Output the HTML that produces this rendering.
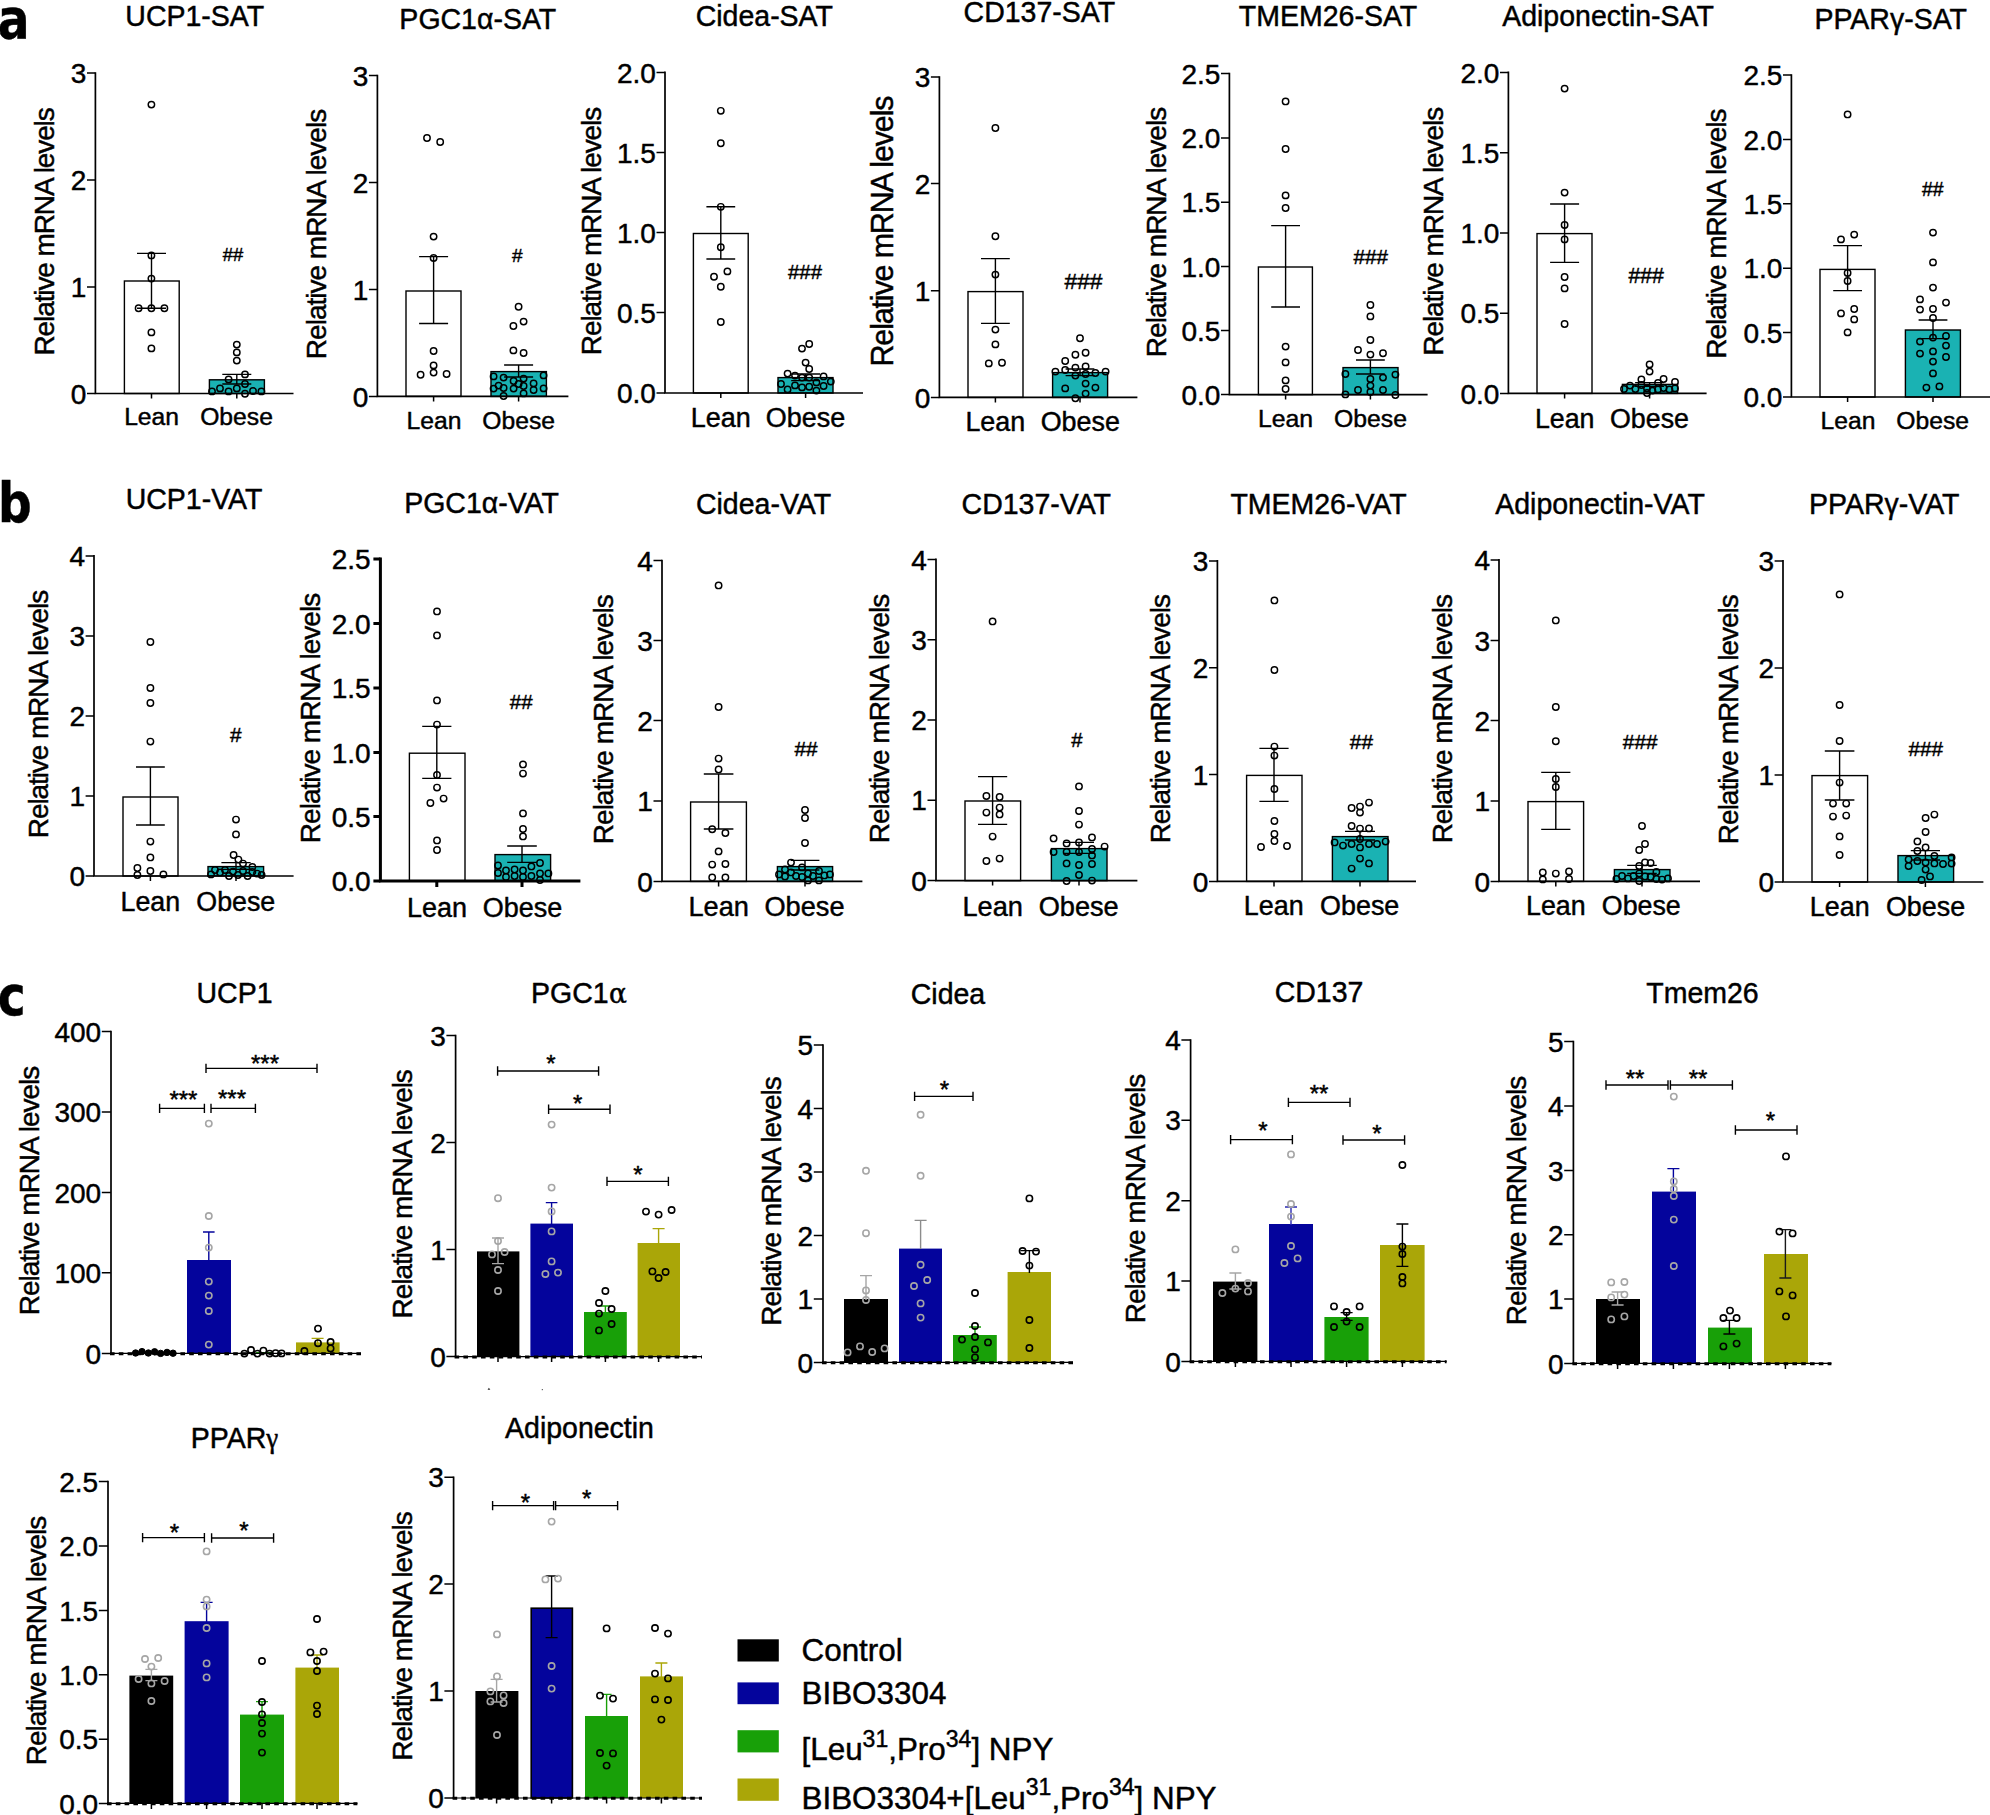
<!DOCTYPE html>
<html lang="en"><head><meta charset="utf-8"><title>Figure</title>
<style>html,body{margin:0;padding:0;background:#fff}svg{display:block}</style></head>
<body>
<svg width="1990" height="1815" viewBox="0 0 1990 1815" font-family='"Liberation Sans", Arial, Helvetica, sans-serif' fill="#000">
<style>text{stroke:#000;stroke-width:0.45px;paint-order:stroke fill}</style>
<rect width="1990" height="1815" fill="#fff"/>
<g>
<rect x="124.4" y="281" width="54.8" height="112.5" fill="#fff" stroke="#000" stroke-width="1.4"/>
<rect x="209.4" y="379.8" width="55" height="13.7" fill="#1ab2b3" stroke="#000" stroke-width="1.4"/>
<path d="M95.4 72.2V393.5M94.6 393.5H293.5" stroke="#000" stroke-width="1.7" fill="none"/>
<path d="M87 73H95.4M87 180H95.4M87 287H95.4M87 393.5H95.4M151.5 393.5V398.5M236.8 393.5V398.5" stroke="#000" stroke-width="1.5" fill="none"/>
<text x="86.4" y="83.1" font-size="28" text-anchor="end" >3</text>
<text x="86.4" y="190.1" font-size="28" text-anchor="end" >2</text>
<text x="86.4" y="297.1" font-size="28" text-anchor="end" >1</text>
<text x="86.4" y="403.6" font-size="28" text-anchor="end" >0</text>
<path d="M151.5 253.4V308.2M137 253.4H166M137 308.2H166" stroke="#000" stroke-width="1.4" fill="none"/>
<path d="M236.8 374.4V384M222.3 374.4H251.3M222.3 384H251.3" stroke="#000" stroke-width="1.4" fill="none"/>
<circle cx="151.4" cy="104.6" r="3.2" fill="none" stroke="#000" stroke-width="1.45"/>
<circle cx="151.4" cy="255.4" r="3.2" fill="none" stroke="#000" stroke-width="1.45"/>
<circle cx="151.4" cy="278.6" r="3.2" fill="none" stroke="#000" stroke-width="1.45"/>
<circle cx="138.6" cy="308.2" r="3.2" fill="none" stroke="#000" stroke-width="1.45"/>
<circle cx="151.4" cy="308.2" r="3.2" fill="none" stroke="#000" stroke-width="1.45"/>
<circle cx="164.4" cy="308.2" r="3.2" fill="none" stroke="#000" stroke-width="1.45"/>
<circle cx="151.4" cy="332.4" r="3.2" fill="none" stroke="#000" stroke-width="1.45"/>
<circle cx="151.4" cy="348.4" r="3.2" fill="none" stroke="#000" stroke-width="1.45"/>
<circle cx="236.8" cy="344.6" r="3.2" fill="none" stroke="#000" stroke-width="1.45"/>
<circle cx="236.8" cy="352.4" r="3.2" fill="none" stroke="#000" stroke-width="1.45"/>
<circle cx="236.8" cy="360.6" r="3.2" fill="none" stroke="#000" stroke-width="1.45"/>
<circle cx="245" cy="374.4" r="3.2" fill="none" stroke="#000" stroke-width="1.45"/>
<circle cx="228.6" cy="379.4" r="3.2" fill="none" stroke="#000" stroke-width="1.45"/>
<circle cx="245" cy="384" r="3.2" fill="none" stroke="#000" stroke-width="1.45"/>
<circle cx="220" cy="388.4" r="3.2" fill="none" stroke="#000" stroke-width="1.45"/>
<circle cx="236.8" cy="388.4" r="3.2" fill="none" stroke="#000" stroke-width="1.45"/>
<circle cx="212" cy="391.4" r="3.2" fill="none" stroke="#000" stroke-width="1.45"/>
<circle cx="228.6" cy="391.4" r="3.2" fill="none" stroke="#000" stroke-width="1.45"/>
<circle cx="253" cy="391" r="3.2" fill="none" stroke="#000" stroke-width="1.45"/>
<circle cx="261.4" cy="391.4" r="3.2" fill="none" stroke="#000" stroke-width="1.45"/>
<circle cx="245" cy="393.8" r="3.2" fill="none" stroke="#000" stroke-width="1.45"/>
<text transform="translate(194.7,26) scale(1,1.06)" font-size="28.5" text-anchor="middle">UCP1-SAT</text>
<text transform="translate(54,231.4) rotate(-90)" font-size="28" text-anchor="middle" textLength="248.3" lengthAdjust="spacing">Relative mRNA levels</text>
<text x="151.6" y="424.6" font-size="24.7" text-anchor="middle" >Lean</text>
<text x="236.5" y="424.6" font-size="24.7" text-anchor="middle" >Obese</text>
<text x="233" y="261" font-size="18.4" text-anchor="middle" >##</text>
</g>
<g>
<rect x="406" y="291" width="55" height="105.4" fill="#fff" stroke="#000" stroke-width="1.4"/>
<rect x="491" y="371.6" width="55.4" height="24.8" fill="#1ab2b3" stroke="#000" stroke-width="1.4"/>
<path d="M377.4 74.8V396.4M376.5 396.4H568.4" stroke="#000" stroke-width="1.7" fill="none"/>
<path d="M368.9 75.6H377.4M368.9 182.6H377.4M368.9 289.6H377.4M368.9 396.4H377.4M433.6 396.4V401.4M518.6 396.4V401.4" stroke="#000" stroke-width="1.5" fill="none"/>
<text x="368.3" y="85.7" font-size="28" text-anchor="end" >3</text>
<text x="368.3" y="192.7" font-size="28" text-anchor="end" >2</text>
<text x="368.3" y="299.7" font-size="28" text-anchor="end" >1</text>
<text x="368.3" y="406.5" font-size="28" text-anchor="end" >0</text>
<path d="M433.6 256.6V323.5M419.1 256.6H448.1M419.1 323.5H448.1" stroke="#000" stroke-width="1.4" fill="none"/>
<path d="M518.6 365V377M504.1 365H533.1M504.1 377H533.1" stroke="#000" stroke-width="1.4" fill="none"/>
<circle cx="427" cy="138" r="3.2" fill="none" stroke="#000" stroke-width="1.45"/>
<circle cx="440.2" cy="142" r="3.2" fill="none" stroke="#000" stroke-width="1.45"/>
<circle cx="433.6" cy="236.6" r="3.2" fill="none" stroke="#000" stroke-width="1.45"/>
<circle cx="433.6" cy="258" r="3.2" fill="none" stroke="#000" stroke-width="1.45"/>
<circle cx="433.6" cy="351" r="3.2" fill="none" stroke="#000" stroke-width="1.45"/>
<circle cx="433.6" cy="365.4" r="3.2" fill="none" stroke="#000" stroke-width="1.45"/>
<circle cx="433.6" cy="372.6" r="3.2" fill="none" stroke="#000" stroke-width="1.45"/>
<circle cx="420.6" cy="374.8" r="3.2" fill="none" stroke="#000" stroke-width="1.45"/>
<circle cx="446.6" cy="374" r="3.2" fill="none" stroke="#000" stroke-width="1.45"/>
<circle cx="518.6" cy="306.8" r="3.2" fill="none" stroke="#000" stroke-width="1.45"/>
<circle cx="523.6" cy="321.6" r="3.2" fill="none" stroke="#000" stroke-width="1.45"/>
<circle cx="513.4" cy="326" r="3.2" fill="none" stroke="#000" stroke-width="1.45"/>
<circle cx="513.4" cy="350.4" r="3.2" fill="none" stroke="#000" stroke-width="1.45"/>
<circle cx="523.6" cy="353" r="3.2" fill="none" stroke="#000" stroke-width="1.45"/>
<circle cx="493.6" cy="376.4" r="3.2" fill="none" stroke="#000" stroke-width="1.45"/>
<circle cx="503.6" cy="377.6" r="3.2" fill="none" stroke="#000" stroke-width="1.45"/>
<circle cx="523.6" cy="378.6" r="3.2" fill="none" stroke="#000" stroke-width="1.45"/>
<circle cx="543.6" cy="375.4" r="3.2" fill="none" stroke="#000" stroke-width="1.45"/>
<circle cx="498.6" cy="385.6" r="3.2" fill="none" stroke="#000" stroke-width="1.45"/>
<circle cx="513.6" cy="381" r="3.2" fill="none" stroke="#000" stroke-width="1.45"/>
<circle cx="518.6" cy="384" r="3.2" fill="none" stroke="#000" stroke-width="1.45"/>
<circle cx="533.6" cy="383.4" r="3.2" fill="none" stroke="#000" stroke-width="1.45"/>
<circle cx="493.6" cy="388.6" r="3.2" fill="none" stroke="#000" stroke-width="1.45"/>
<circle cx="503.6" cy="388" r="3.2" fill="none" stroke="#000" stroke-width="1.45"/>
<circle cx="513.6" cy="388.6" r="3.2" fill="none" stroke="#000" stroke-width="1.45"/>
<circle cx="523.6" cy="386" r="3.2" fill="none" stroke="#000" stroke-width="1.45"/>
<circle cx="533.6" cy="390" r="3.2" fill="none" stroke="#000" stroke-width="1.45"/>
<circle cx="543.6" cy="388.4" r="3.2" fill="none" stroke="#000" stroke-width="1.45"/>
<circle cx="503.6" cy="396" r="3.2" fill="none" stroke="#000" stroke-width="1.45"/>
<circle cx="523.6" cy="393.4" r="3.2" fill="none" stroke="#000" stroke-width="1.45"/>
<text transform="translate(477.8,29) scale(1,1.06)" font-size="28.5" text-anchor="middle">PGC1α-SAT</text>
<text transform="translate(325.6,234) rotate(-90)" font-size="28" text-anchor="middle" textLength="250.3" lengthAdjust="spacing">Relative mRNA levels</text>
<text x="434" y="429.4" font-size="24.7" text-anchor="middle" >Lean</text>
<text x="518.7" y="429.4" font-size="24.7" text-anchor="middle" >Obese</text>
<text x="517.4" y="262" font-size="19" text-anchor="middle" >#</text>
</g>
<g>
<rect x="693.4" y="233.5" width="54.8" height="159.5" fill="#fff" stroke="#000" stroke-width="1.4"/>
<rect x="778" y="377.6" width="55" height="15.4" fill="#1ab2b3" stroke="#000" stroke-width="1.4"/>
<path d="M665 71.6V393M664.1 393H863" stroke="#000" stroke-width="1.7" fill="none"/>
<path d="M656.5 72.4H665M656.5 152.6H665M656.5 232.6H665M656.5 312.6H665M656.5 393H665M720.8 393V398M805.6 393V398" stroke="#000" stroke-width="1.5" fill="none"/>
<text x="655.9" y="82.5" font-size="28" text-anchor="end" >2.0</text>
<text x="655.9" y="162.7" font-size="28" text-anchor="end" >1.5</text>
<text x="655.9" y="242.7" font-size="28" text-anchor="end" >1.0</text>
<text x="655.9" y="322.7" font-size="28" text-anchor="end" >0.5</text>
<text x="655.9" y="403.1" font-size="28" text-anchor="end" >0.0</text>
<path d="M720.8 206.8V259M706.4 206.8H735.2M706.4 259H735.2" stroke="#000" stroke-width="1.4" fill="none"/>
<path d="M805.6 374V380.6M791.2 374H820M791.2 380.6H820" stroke="#000" stroke-width="1.4" fill="none"/>
<circle cx="720.8" cy="110.8" r="3.2" fill="none" stroke="#000" stroke-width="1.45"/>
<circle cx="720.8" cy="143.2" r="3.2" fill="none" stroke="#000" stroke-width="1.45"/>
<circle cx="720.8" cy="206.8" r="3.2" fill="none" stroke="#000" stroke-width="1.45"/>
<circle cx="720.8" cy="247.2" r="3.2" fill="none" stroke="#000" stroke-width="1.45"/>
<circle cx="727.4" cy="271.4" r="3.2" fill="none" stroke="#000" stroke-width="1.45"/>
<circle cx="714" cy="276.8" r="3.2" fill="none" stroke="#000" stroke-width="1.45"/>
<circle cx="720.8" cy="286.8" r="3.2" fill="none" stroke="#000" stroke-width="1.45"/>
<circle cx="720.8" cy="322" r="3.2" fill="none" stroke="#000" stroke-width="1.45"/>
<circle cx="809.2" cy="344" r="3.2" fill="none" stroke="#000" stroke-width="1.45"/>
<circle cx="802" cy="348.6" r="3.2" fill="none" stroke="#000" stroke-width="1.45"/>
<circle cx="805.6" cy="362.6" r="3.2" fill="none" stroke="#000" stroke-width="1.45"/>
<circle cx="809.2" cy="369" r="3.2" fill="none" stroke="#000" stroke-width="1.45"/>
<circle cx="787.6" cy="373.6" r="3.2" fill="none" stroke="#000" stroke-width="1.45"/>
<circle cx="795" cy="375.6" r="3.2" fill="none" stroke="#000" stroke-width="1.45"/>
<circle cx="802" cy="377.6" r="3.2" fill="none" stroke="#000" stroke-width="1.45"/>
<circle cx="809.2" cy="377.6" r="3.2" fill="none" stroke="#000" stroke-width="1.45"/>
<circle cx="823.6" cy="376.4" r="3.2" fill="none" stroke="#000" stroke-width="1.45"/>
<circle cx="816.4" cy="382.4" r="3.2" fill="none" stroke="#000" stroke-width="1.45"/>
<circle cx="830.8" cy="381.6" r="3.2" fill="none" stroke="#000" stroke-width="1.45"/>
<circle cx="781" cy="384" r="3.2" fill="none" stroke="#000" stroke-width="1.45"/>
<circle cx="795" cy="385.4" r="3.2" fill="none" stroke="#000" stroke-width="1.45"/>
<circle cx="823.6" cy="386" r="3.2" fill="none" stroke="#000" stroke-width="1.45"/>
<circle cx="787.6" cy="389.4" r="3.2" fill="none" stroke="#000" stroke-width="1.45"/>
<circle cx="802" cy="387.4" r="3.2" fill="none" stroke="#000" stroke-width="1.45"/>
<circle cx="809.2" cy="386.8" r="3.2" fill="none" stroke="#000" stroke-width="1.45"/>
<circle cx="816.4" cy="390.6" r="3.2" fill="none" stroke="#000" stroke-width="1.45"/>
<text transform="translate(764.3,26) scale(1,1.06)" font-size="28.5" text-anchor="middle">Cidea-SAT</text>
<text transform="translate(601,231) rotate(-90)" font-size="28" text-anchor="middle" textLength="248.3" lengthAdjust="spacing">Relative mRNA levels</text>
<text x="720.8" y="427.4" font-size="27" text-anchor="middle" >Lean</text>
<text x="805.6" y="427.4" font-size="27" text-anchor="middle" >Obese</text>
<text x="805" y="279" font-size="20.3" text-anchor="middle" >###</text>
</g>
<g>
<rect x="968" y="291.6" width="55" height="105.8" fill="#fff" stroke="#000" stroke-width="1.4"/>
<rect x="1052.6" y="372.6" width="55" height="24.8" fill="#1ab2b3" stroke="#000" stroke-width="1.4"/>
<path d="M939.4 76.2V397.4M938.5 397.4H1137.4" stroke="#000" stroke-width="1.7" fill="none"/>
<path d="M930.9 77H939.4M930.9 183.6H939.4M930.9 290.8H939.4M930.9 397.4H939.4M995.4 397.4V402.4M1080 397.4V402.4" stroke="#000" stroke-width="1.5" fill="none"/>
<text x="930.3" y="87.1" font-size="28" text-anchor="end" >3</text>
<text x="930.3" y="193.7" font-size="28" text-anchor="end" >2</text>
<text x="930.3" y="300.9" font-size="28" text-anchor="end" >1</text>
<text x="930.3" y="407.5" font-size="28" text-anchor="end" >0</text>
<path d="M995.4 258.6V323.4M981 258.6H1009.8M981 323.4H1009.8" stroke="#000" stroke-width="1.4" fill="none"/>
<path d="M1080 369V375.6M1065.6 369H1094.4M1065.6 375.6H1094.4" stroke="#000" stroke-width="1.4" fill="none"/>
<circle cx="995.4" cy="128" r="3.2" fill="none" stroke="#000" stroke-width="1.45"/>
<circle cx="995.4" cy="236.2" r="3.2" fill="none" stroke="#000" stroke-width="1.45"/>
<circle cx="995.4" cy="274.6" r="3.2" fill="none" stroke="#000" stroke-width="1.45"/>
<circle cx="995.4" cy="329.6" r="3.2" fill="none" stroke="#000" stroke-width="1.45"/>
<circle cx="995.4" cy="344.4" r="3.2" fill="none" stroke="#000" stroke-width="1.45"/>
<circle cx="988.8" cy="363.4" r="3.2" fill="none" stroke="#000" stroke-width="1.45"/>
<circle cx="1002" cy="362.8" r="3.2" fill="none" stroke="#000" stroke-width="1.45"/>
<circle cx="1080" cy="338.2" r="3.2" fill="none" stroke="#000" stroke-width="1.45"/>
<circle cx="1085.6" cy="352.8" r="3.2" fill="none" stroke="#000" stroke-width="1.45"/>
<circle cx="1075.4" cy="354.8" r="3.2" fill="none" stroke="#000" stroke-width="1.45"/>
<circle cx="1065.2" cy="361" r="3.2" fill="none" stroke="#000" stroke-width="1.45"/>
<circle cx="1075.4" cy="367.6" r="3.2" fill="none" stroke="#000" stroke-width="1.45"/>
<circle cx="1085.6" cy="366.4" r="3.2" fill="none" stroke="#000" stroke-width="1.45"/>
<circle cx="1065.2" cy="370" r="3.2" fill="none" stroke="#000" stroke-width="1.45"/>
<circle cx="1055.4" cy="371.6" r="3.2" fill="none" stroke="#000" stroke-width="1.45"/>
<circle cx="1105.6" cy="371.6" r="3.2" fill="none" stroke="#000" stroke-width="1.45"/>
<circle cx="1095.4" cy="373" r="3.2" fill="none" stroke="#000" stroke-width="1.45"/>
<circle cx="1085.6" cy="374" r="3.2" fill="none" stroke="#000" stroke-width="1.45"/>
<circle cx="1075.4" cy="375.6" r="3.2" fill="none" stroke="#000" stroke-width="1.45"/>
<circle cx="1085.6" cy="383.6" r="3.2" fill="none" stroke="#000" stroke-width="1.45"/>
<circle cx="1065.2" cy="388.4" r="3.2" fill="none" stroke="#000" stroke-width="1.45"/>
<circle cx="1095.4" cy="387.6" r="3.2" fill="none" stroke="#000" stroke-width="1.45"/>
<circle cx="1085.6" cy="393.6" r="3.2" fill="none" stroke="#000" stroke-width="1.45"/>
<circle cx="1075.4" cy="398.2" r="3.2" fill="none" stroke="#000" stroke-width="1.45"/>
<text transform="translate(1039.3,21.6) scale(1,1.06)" font-size="28.5" text-anchor="middle">CD137-SAT</text>
<text transform="translate(892.6,231) rotate(-90)" font-size="30.5" text-anchor="middle" textLength="271" lengthAdjust="spacing">Relative mRNA levels</text>
<text x="995.3" y="431.4" font-size="26.9" text-anchor="middle" >Lean</text>
<text x="1080.3" y="431.4" font-size="26.9" text-anchor="middle" >Obese</text>
<text x="1083.5" y="288.6" font-size="22.8" text-anchor="middle" >###</text>
</g>
<g>
<rect x="1258.4" y="267" width="54" height="127.6" fill="#fff" stroke="#000" stroke-width="1.4"/>
<rect x="1343" y="367.6" width="55" height="27" fill="#1ab2b3" stroke="#000" stroke-width="1.4"/>
<path d="M1229.4 72.8V394.6M1228.6 394.6H1427.6" stroke="#000" stroke-width="1.7" fill="none"/>
<path d="M1221 73.6H1229.4M1221 138H1229.4M1221 202.2H1229.4M1221 266.4H1229.4M1221 330.4H1229.4M1221 394.6H1229.4M1285.6 394.6V399.6M1370.4 394.6V399.6" stroke="#000" stroke-width="1.5" fill="none"/>
<text x="1220.4" y="83.7" font-size="28" text-anchor="end" >2.5</text>
<text x="1220.4" y="148.1" font-size="28" text-anchor="end" >2.0</text>
<text x="1220.4" y="212.3" font-size="28" text-anchor="end" >1.5</text>
<text x="1220.4" y="276.5" font-size="28" text-anchor="end" >1.0</text>
<text x="1220.4" y="340.5" font-size="28" text-anchor="end" >0.5</text>
<text x="1220.4" y="404.7" font-size="28" text-anchor="end" >0.0</text>
<path d="M1285.6 225.6V307M1271.2 225.6H1300M1271.2 307H1300" stroke="#000" stroke-width="1.4" fill="none"/>
<path d="M1370.4 360V374M1356 360H1384.8M1356 374H1384.8" stroke="#000" stroke-width="1.4" fill="none"/>
<circle cx="1285.6" cy="101.4" r="3.2" fill="none" stroke="#000" stroke-width="1.45"/>
<circle cx="1285.6" cy="149" r="3.2" fill="none" stroke="#000" stroke-width="1.45"/>
<circle cx="1285.6" cy="195.4" r="3.2" fill="none" stroke="#000" stroke-width="1.45"/>
<circle cx="1285.6" cy="208" r="3.2" fill="none" stroke="#000" stroke-width="1.45"/>
<circle cx="1285.6" cy="346.6" r="3.2" fill="none" stroke="#000" stroke-width="1.45"/>
<circle cx="1285.6" cy="362.4" r="3.2" fill="none" stroke="#000" stroke-width="1.45"/>
<circle cx="1285.6" cy="380.4" r="3.2" fill="none" stroke="#000" stroke-width="1.45"/>
<circle cx="1285.6" cy="389" r="3.2" fill="none" stroke="#000" stroke-width="1.45"/>
<circle cx="1370.4" cy="305" r="3.2" fill="none" stroke="#000" stroke-width="1.45"/>
<circle cx="1370.4" cy="316.4" r="3.2" fill="none" stroke="#000" stroke-width="1.45"/>
<circle cx="1370.4" cy="340" r="3.2" fill="none" stroke="#000" stroke-width="1.45"/>
<circle cx="1358" cy="350" r="3.2" fill="none" stroke="#000" stroke-width="1.45"/>
<circle cx="1383" cy="353.2" r="3.2" fill="none" stroke="#000" stroke-width="1.45"/>
<circle cx="1370.4" cy="354.6" r="3.2" fill="none" stroke="#000" stroke-width="1.45"/>
<circle cx="1345.4" cy="374" r="3.2" fill="none" stroke="#000" stroke-width="1.45"/>
<circle cx="1395.4" cy="374.6" r="3.2" fill="none" stroke="#000" stroke-width="1.45"/>
<circle cx="1383" cy="377.6" r="3.2" fill="none" stroke="#000" stroke-width="1.45"/>
<circle cx="1370.4" cy="379" r="3.2" fill="none" stroke="#000" stroke-width="1.45"/>
<circle cx="1370.4" cy="385.6" r="3.2" fill="none" stroke="#000" stroke-width="1.45"/>
<circle cx="1358" cy="390" r="3.2" fill="none" stroke="#000" stroke-width="1.45"/>
<circle cx="1383" cy="390" r="3.2" fill="none" stroke="#000" stroke-width="1.45"/>
<circle cx="1370.4" cy="392" r="3.2" fill="none" stroke="#000" stroke-width="1.45"/>
<circle cx="1345.4" cy="394.4" r="3.2" fill="none" stroke="#000" stroke-width="1.45"/>
<circle cx="1395.4" cy="395" r="3.2" fill="none" stroke="#000" stroke-width="1.45"/>
<text transform="translate(1328,26) scale(1,1.06)" font-size="28.5" text-anchor="middle">TMEM26-SAT</text>
<text transform="translate(1166.4,232) rotate(-90)" font-size="28" text-anchor="middle" textLength="250.3" lengthAdjust="spacing">Relative mRNA levels</text>
<text x="1285.6" y="426.6" font-size="24.8" text-anchor="middle" >Lean</text>
<text x="1370.5" y="426.6" font-size="24.8" text-anchor="middle" >Obese</text>
<text x="1370.7" y="264" font-size="20.7" text-anchor="middle" >###</text>
</g>
<g>
<rect x="1537" y="233.6" width="55" height="159.8" fill="#fff" stroke="#000" stroke-width="1.4"/>
<rect x="1622.4" y="384.4" width="55.2" height="9" fill="#1ab2b3" stroke="#000" stroke-width="1.4"/>
<path d="M1508.4 71.6V393.4M1507.6 393.4H1706.6" stroke="#000" stroke-width="1.7" fill="none"/>
<path d="M1500 72.4H1508.4M1500 152.8H1508.4M1500 233H1508.4M1500 313.2H1508.4M1500 393.4H1508.4M1564.6 393.4V398.4M1649.6 393.4V398.4" stroke="#000" stroke-width="1.5" fill="none"/>
<text x="1499.4" y="82.5" font-size="28" text-anchor="end" >2.0</text>
<text x="1499.4" y="162.9" font-size="28" text-anchor="end" >1.5</text>
<text x="1499.4" y="243.1" font-size="28" text-anchor="end" >1.0</text>
<text x="1499.4" y="323.3" font-size="28" text-anchor="end" >0.5</text>
<text x="1499.4" y="403.5" font-size="28" text-anchor="end" >0.0</text>
<path d="M1564.6 204V262.4M1550.1 204H1579.1M1550.1 262.4H1579.1" stroke="#000" stroke-width="1.4" fill="none"/>
<path d="M1649.6 382.6V386.4M1635.1 382.6H1664.1M1635.1 386.4H1664.1" stroke="#000" stroke-width="1.4" fill="none"/>
<circle cx="1564.6" cy="88.6" r="3.2" fill="none" stroke="#000" stroke-width="1.45"/>
<circle cx="1564.6" cy="192.6" r="3.2" fill="none" stroke="#000" stroke-width="1.45"/>
<circle cx="1564.6" cy="225" r="3.2" fill="none" stroke="#000" stroke-width="1.45"/>
<circle cx="1564.6" cy="239.4" r="3.2" fill="none" stroke="#000" stroke-width="1.45"/>
<circle cx="1564.6" cy="277" r="3.2" fill="none" stroke="#000" stroke-width="1.45"/>
<circle cx="1564.6" cy="288.4" r="3.2" fill="none" stroke="#000" stroke-width="1.45"/>
<circle cx="1564.6" cy="324" r="3.2" fill="none" stroke="#000" stroke-width="1.45"/>
<circle cx="1649.6" cy="364.4" r="3.2" fill="none" stroke="#000" stroke-width="1.45"/>
<circle cx="1649.6" cy="371.6" r="3.2" fill="none" stroke="#000" stroke-width="1.45"/>
<circle cx="1641.4" cy="379.4" r="3.2" fill="none" stroke="#000" stroke-width="1.45"/>
<circle cx="1663.6" cy="379" r="3.2" fill="none" stroke="#000" stroke-width="1.45"/>
<circle cx="1675" cy="382" r="3.2" fill="none" stroke="#000" stroke-width="1.45"/>
<circle cx="1658" cy="383" r="3.2" fill="none" stroke="#000" stroke-width="1.45"/>
<circle cx="1630" cy="385.6" r="3.2" fill="none" stroke="#000" stroke-width="1.45"/>
<circle cx="1641.4" cy="385" r="3.2" fill="none" stroke="#000" stroke-width="1.45"/>
<circle cx="1624" cy="389" r="3.2" fill="none" stroke="#000" stroke-width="1.45"/>
<circle cx="1635.4" cy="389" r="3.2" fill="none" stroke="#000" stroke-width="1.45"/>
<circle cx="1647" cy="388.6" r="3.2" fill="none" stroke="#000" stroke-width="1.45"/>
<circle cx="1658" cy="389.4" r="3.2" fill="none" stroke="#000" stroke-width="1.45"/>
<circle cx="1669.4" cy="389.4" r="3.2" fill="none" stroke="#000" stroke-width="1.45"/>
<circle cx="1675" cy="388.4" r="3.2" fill="none" stroke="#000" stroke-width="1.45"/>
<circle cx="1652.4" cy="390.6" r="3.2" fill="none" stroke="#000" stroke-width="1.45"/>
<circle cx="1663.6" cy="388" r="3.2" fill="none" stroke="#000" stroke-width="1.45"/>
<circle cx="1647" cy="393" r="3.2" fill="none" stroke="#000" stroke-width="1.45"/>
<text transform="translate(1608,26) scale(1,1.06)" font-size="28.5" text-anchor="middle">Adiponectin-SAT</text>
<text transform="translate(1443,231.3) rotate(-90)" font-size="28" text-anchor="middle" textLength="248.9" lengthAdjust="spacing">Relative mRNA levels</text>
<text x="1564.7" y="428" font-size="26.8" text-anchor="middle" >Lean</text>
<text x="1649.5" y="428" font-size="26.8" text-anchor="middle" >Obese</text>
<text x="1646.2" y="283" font-size="21.3" text-anchor="middle" >###</text>
</g>
<g>
<rect x="1820" y="269.4" width="55" height="127.6" fill="#fff" stroke="#000" stroke-width="1.4"/>
<rect x="1905.4" y="330" width="55" height="67" fill="#1ab2b3" stroke="#000" stroke-width="1.4"/>
<path d="M1791.4 74.2V397M1790.6 397H1992" stroke="#000" stroke-width="1.7" fill="none"/>
<path d="M1783 75H1791.4M1783 139.4H1791.4M1783 203.8H1791.4M1783 268.2H1791.4M1783 332.6H1791.4M1783 397H1791.4M1847.6 397V402M1933 397V402" stroke="#000" stroke-width="1.5" fill="none"/>
<text x="1782.4" y="85.1" font-size="28" text-anchor="end" >2.5</text>
<text x="1782.4" y="149.5" font-size="28" text-anchor="end" >2.0</text>
<text x="1782.4" y="213.9" font-size="28" text-anchor="end" >1.5</text>
<text x="1782.4" y="278.3" font-size="28" text-anchor="end" >1.0</text>
<text x="1782.4" y="342.7" font-size="28" text-anchor="end" >0.5</text>
<text x="1782.4" y="407.1" font-size="28" text-anchor="end" >0.0</text>
<path d="M1847.6 245.6V290.6M1833.2 245.6H1862M1833.2 290.6H1862" stroke="#000" stroke-width="1.4" fill="none"/>
<path d="M1933 320V338.6M1918.6 320H1947.4M1918.6 338.6H1947.4" stroke="#000" stroke-width="1.4" fill="none"/>
<circle cx="1847.6" cy="114.4" r="3.2" fill="none" stroke="#000" stroke-width="1.45"/>
<circle cx="1854.2" cy="234.6" r="3.2" fill="none" stroke="#000" stroke-width="1.45"/>
<circle cx="1841" cy="239.4" r="3.2" fill="none" stroke="#000" stroke-width="1.45"/>
<circle cx="1847.6" cy="273" r="3.2" fill="none" stroke="#000" stroke-width="1.45"/>
<circle cx="1847.6" cy="281" r="3.2" fill="none" stroke="#000" stroke-width="1.45"/>
<circle cx="1854.2" cy="309" r="3.2" fill="none" stroke="#000" stroke-width="1.45"/>
<circle cx="1841" cy="313.4" r="3.2" fill="none" stroke="#000" stroke-width="1.45"/>
<circle cx="1854.2" cy="319.4" r="3.2" fill="none" stroke="#000" stroke-width="1.45"/>
<circle cx="1847.6" cy="332.4" r="3.2" fill="none" stroke="#000" stroke-width="1.45"/>
<circle cx="1933" cy="232.6" r="3.2" fill="none" stroke="#000" stroke-width="1.45"/>
<circle cx="1933" cy="262.4" r="3.2" fill="none" stroke="#000" stroke-width="1.45"/>
<circle cx="1933" cy="287.6" r="3.2" fill="none" stroke="#000" stroke-width="1.45"/>
<circle cx="1920" cy="299.4" r="3.2" fill="none" stroke="#000" stroke-width="1.45"/>
<circle cx="1946" cy="302.6" r="3.2" fill="none" stroke="#000" stroke-width="1.45"/>
<circle cx="1920" cy="309.6" r="3.2" fill="none" stroke="#000" stroke-width="1.45"/>
<circle cx="1933" cy="309" r="3.2" fill="none" stroke="#000" stroke-width="1.45"/>
<circle cx="1933" cy="318" r="3.2" fill="none" stroke="#000" stroke-width="1.45"/>
<circle cx="1946" cy="336" r="3.2" fill="none" stroke="#000" stroke-width="1.45"/>
<circle cx="1933" cy="337.6" r="3.2" fill="none" stroke="#000" stroke-width="1.45"/>
<circle cx="1920" cy="341.6" r="3.2" fill="none" stroke="#000" stroke-width="1.45"/>
<circle cx="1946" cy="345.6" r="3.2" fill="none" stroke="#000" stroke-width="1.45"/>
<circle cx="1933" cy="351.4" r="3.2" fill="none" stroke="#000" stroke-width="1.45"/>
<circle cx="1920" cy="353.6" r="3.2" fill="none" stroke="#000" stroke-width="1.45"/>
<circle cx="1946" cy="357" r="3.2" fill="none" stroke="#000" stroke-width="1.45"/>
<circle cx="1933" cy="361.6" r="3.2" fill="none" stroke="#000" stroke-width="1.45"/>
<circle cx="1933" cy="373.4" r="3.2" fill="none" stroke="#000" stroke-width="1.45"/>
<circle cx="1926.4" cy="387.6" r="3.2" fill="none" stroke="#000" stroke-width="1.45"/>
<circle cx="1939.4" cy="386.4" r="3.2" fill="none" stroke="#000" stroke-width="1.45"/>
<text transform="translate(1890.7,29) scale(1,1.06)" font-size="28.5" text-anchor="middle">PPARγ-SAT</text>
<text transform="translate(1725.6,233.6) rotate(-90)" font-size="28" text-anchor="middle" textLength="250.3" lengthAdjust="spacing">Relative mRNA levels</text>
<text x="1848" y="429.4" font-size="24.7" text-anchor="middle" >Lean</text>
<text x="1932.7" y="429.4" font-size="24.7" text-anchor="middle" >Obese</text>
<text x="1932.8" y="196" font-size="19.4" text-anchor="middle" >##</text>
</g>
<g>
<rect x="123" y="797" width="55" height="79" fill="#fff" stroke="#000" stroke-width="1.4"/>
<rect x="208" y="866.6" width="55.6" height="9.4" fill="#1ab2b3" stroke="#000" stroke-width="1.4"/>
<path d="M94 555.1V876M93.2 876H293.6" stroke="#000" stroke-width="1.7" fill="none"/>
<path d="M85.6 556H94M85.6 636H94M85.6 716H94M85.6 796H94M85.6 876H94M150.4 876V881M236 876V881" stroke="#000" stroke-width="1.5" fill="none"/>
<text x="85" y="566.1" font-size="28" text-anchor="end" >4</text>
<text x="85" y="646.1" font-size="28" text-anchor="end" >3</text>
<text x="85" y="726.1" font-size="28" text-anchor="end" >2</text>
<text x="85" y="806.1" font-size="28" text-anchor="end" >1</text>
<text x="85" y="886.1" font-size="28" text-anchor="end" >0</text>
<path d="M150.4 767V825M136 767H164.8M136 825H164.8" stroke="#000" stroke-width="1.4" fill="none"/>
<path d="M236 862.6V869.4M221.4 862.6H250.6M221.4 869.4H250.6" stroke="#000" stroke-width="1.4" fill="none"/>
<circle cx="150.4" cy="642" r="3.2" fill="none" stroke="#000" stroke-width="1.45"/>
<circle cx="150.4" cy="688" r="3.2" fill="none" stroke="#000" stroke-width="1.45"/>
<circle cx="150.4" cy="703" r="3.2" fill="none" stroke="#000" stroke-width="1.45"/>
<circle cx="150.4" cy="741.6" r="3.2" fill="none" stroke="#000" stroke-width="1.45"/>
<circle cx="150.4" cy="841.6" r="3.2" fill="none" stroke="#000" stroke-width="1.45"/>
<circle cx="150.4" cy="857.4" r="3.2" fill="none" stroke="#000" stroke-width="1.45"/>
<circle cx="137.4" cy="868" r="3.2" fill="none" stroke="#000" stroke-width="1.45"/>
<circle cx="150.4" cy="871" r="3.2" fill="none" stroke="#000" stroke-width="1.45"/>
<circle cx="137.4" cy="875" r="3.2" fill="none" stroke="#000" stroke-width="1.45"/>
<circle cx="163.4" cy="874.4" r="3.2" fill="none" stroke="#000" stroke-width="1.45"/>
<circle cx="236" cy="819.6" r="3.2" fill="none" stroke="#000" stroke-width="1.45"/>
<circle cx="236" cy="834.4" r="3.2" fill="none" stroke="#000" stroke-width="1.45"/>
<circle cx="233.6" cy="855" r="3.2" fill="none" stroke="#000" stroke-width="1.45"/>
<circle cx="238.4" cy="859.6" r="3.2" fill="none" stroke="#000" stroke-width="1.45"/>
<circle cx="243" cy="863.6" r="3.2" fill="none" stroke="#000" stroke-width="1.45"/>
<circle cx="252.4" cy="867" r="3.2" fill="none" stroke="#000" stroke-width="1.45"/>
<circle cx="211" cy="874.4" r="3.2" fill="none" stroke="#000" stroke-width="1.45"/>
<circle cx="215" cy="870" r="3.2" fill="none" stroke="#000" stroke-width="1.45"/>
<circle cx="220" cy="872.4" r="3.2" fill="none" stroke="#000" stroke-width="1.45"/>
<circle cx="225" cy="870" r="3.2" fill="none" stroke="#000" stroke-width="1.45"/>
<circle cx="229" cy="876" r="3.2" fill="none" stroke="#000" stroke-width="1.45"/>
<circle cx="233" cy="871.6" r="3.2" fill="none" stroke="#000" stroke-width="1.45"/>
<circle cx="238" cy="875" r="3.2" fill="none" stroke="#000" stroke-width="1.45"/>
<circle cx="243" cy="871" r="3.2" fill="none" stroke="#000" stroke-width="1.45"/>
<circle cx="247.6" cy="876" r="3.2" fill="none" stroke="#000" stroke-width="1.45"/>
<circle cx="252.4" cy="872" r="3.2" fill="none" stroke="#000" stroke-width="1.45"/>
<circle cx="257" cy="873.6" r="3.2" fill="none" stroke="#000" stroke-width="1.45"/>
<circle cx="261.6" cy="875" r="3.2" fill="none" stroke="#000" stroke-width="1.45"/>
<text transform="translate(194,509) scale(1,1.06)" font-size="28.5" text-anchor="middle">UCP1-VAT</text>
<text transform="translate(48,714) rotate(-90)" font-size="28" text-anchor="middle" textLength="248.3" lengthAdjust="spacing">Relative mRNA levels</text>
<text x="150.3" y="911" font-size="26.8" text-anchor="middle" >Lean</text>
<text x="235.8" y="911" font-size="26.8" text-anchor="middle" >Obese</text>
<text x="235.8" y="742" font-size="20.8" text-anchor="middle" >#</text>
</g>
<g>
<rect x="409.4" y="753.2" width="55.6" height="127.8" fill="#fff" stroke="#000" stroke-width="1.4"/>
<rect x="495" y="854.6" width="55.6" height="26.4" fill="#1ab2b3" stroke="#000" stroke-width="1.4"/>
<path d="M380.4 557.5V881M378.9 881H580.4" stroke="#000" stroke-width="3" fill="none"/>
<path d="M373.4 559H380.4M373.4 623.6H380.4M373.4 688H380.4M373.4 752.4H380.4M373.4 816.6H380.4M373.4 881H380.4M436.8 881V887M522 881V887" stroke="#000" stroke-width="3" fill="none"/>
<text x="370.6" y="569.1" font-size="28" text-anchor="end" >2.5</text>
<text x="370.6" y="633.7" font-size="28" text-anchor="end" >2.0</text>
<text x="370.6" y="698.1" font-size="28" text-anchor="end" >1.5</text>
<text x="370.6" y="762.5" font-size="28" text-anchor="end" >1.0</text>
<text x="370.6" y="826.7" font-size="28" text-anchor="end" >0.5</text>
<text x="370.6" y="891.1" font-size="28" text-anchor="end" >0.0</text>
<path d="M436.8 726.4V778.4M422.2 726.4H451.4M422.2 778.4H451.4" stroke="#000" stroke-width="1.4" fill="none"/>
<path d="M522 846V862.4M507.2 846H536.8M507.2 862.4H536.8" stroke="#000" stroke-width="1.4" fill="none"/>
<circle cx="437" cy="611.4" r="3.2" fill="none" stroke="#000" stroke-width="1.45"/>
<circle cx="437" cy="635.4" r="3.2" fill="none" stroke="#000" stroke-width="1.45"/>
<circle cx="437" cy="700.4" r="3.2" fill="none" stroke="#000" stroke-width="1.45"/>
<circle cx="437" cy="724.6" r="3.2" fill="none" stroke="#000" stroke-width="1.45"/>
<circle cx="437" cy="775" r="3.2" fill="none" stroke="#000" stroke-width="1.45"/>
<circle cx="437" cy="787.6" r="3.2" fill="none" stroke="#000" stroke-width="1.45"/>
<circle cx="443.6" cy="798.6" r="3.2" fill="none" stroke="#000" stroke-width="1.45"/>
<circle cx="430.4" cy="803" r="3.2" fill="none" stroke="#000" stroke-width="1.45"/>
<circle cx="437" cy="840.4" r="3.2" fill="none" stroke="#000" stroke-width="1.45"/>
<circle cx="437" cy="850" r="3.2" fill="none" stroke="#000" stroke-width="1.45"/>
<circle cx="523" cy="764.4" r="3.2" fill="none" stroke="#000" stroke-width="1.45"/>
<circle cx="523" cy="773.6" r="3.2" fill="none" stroke="#000" stroke-width="1.45"/>
<circle cx="523" cy="813.4" r="3.2" fill="none" stroke="#000" stroke-width="1.45"/>
<circle cx="523" cy="829" r="3.2" fill="none" stroke="#000" stroke-width="1.45"/>
<circle cx="523" cy="836.4" r="3.2" fill="none" stroke="#000" stroke-width="1.45"/>
<circle cx="540" cy="863" r="3.2" fill="none" stroke="#000" stroke-width="1.45"/>
<circle cx="498" cy="865.4" r="3.2" fill="none" stroke="#000" stroke-width="1.45"/>
<circle cx="531.4" cy="866.4" r="3.2" fill="none" stroke="#000" stroke-width="1.45"/>
<circle cx="506" cy="870.4" r="3.2" fill="none" stroke="#000" stroke-width="1.45"/>
<circle cx="514.6" cy="869.4" r="3.2" fill="none" stroke="#000" stroke-width="1.45"/>
<circle cx="523" cy="870.4" r="3.2" fill="none" stroke="#000" stroke-width="1.45"/>
<circle cx="498" cy="873" r="3.2" fill="none" stroke="#000" stroke-width="1.45"/>
<circle cx="540" cy="873.4" r="3.2" fill="none" stroke="#000" stroke-width="1.45"/>
<circle cx="548.4" cy="873.4" r="3.2" fill="none" stroke="#000" stroke-width="1.45"/>
<circle cx="506" cy="877" r="3.2" fill="none" stroke="#000" stroke-width="1.45"/>
<circle cx="514.6" cy="876" r="3.2" fill="none" stroke="#000" stroke-width="1.45"/>
<circle cx="523" cy="877" r="3.2" fill="none" stroke="#000" stroke-width="1.45"/>
<circle cx="531.4" cy="876" r="3.2" fill="none" stroke="#000" stroke-width="1.45"/>
<circle cx="540" cy="880" r="3.2" fill="none" stroke="#000" stroke-width="1.45"/>
<text transform="translate(481.5,513) scale(1,1.06)" font-size="28.5" text-anchor="middle">PGC1α-VAT</text>
<text transform="translate(320,718) rotate(-90)" font-size="28" text-anchor="middle" textLength="250.3" lengthAdjust="spacing">Relative mRNA levels</text>
<text x="437" y="916.6" font-size="27" text-anchor="middle" >Lean</text>
<text x="522.5" y="916.6" font-size="27" text-anchor="middle" >Obese</text>
<text x="521.2" y="708.6" font-size="20.5" text-anchor="middle" >##</text>
</g>
<g>
<rect x="690.6" y="802" width="55.8" height="79.4" fill="#fff" stroke="#000" stroke-width="1.4"/>
<rect x="777.4" y="866.6" width="55.2" height="14.8" fill="#1ab2b3" stroke="#000" stroke-width="1.4"/>
<path d="M662 559.8V881.4M661.1 881.4H862.4" stroke="#000" stroke-width="1.7" fill="none"/>
<path d="M653.5 560.6H662M653.5 640.6H662M653.5 720.6H662M653.5 801H662M653.5 881.4H662M718.6 881.4V886.4M805 881.4V886.4" stroke="#000" stroke-width="1.5" fill="none"/>
<text x="652.9" y="570.7" font-size="28" text-anchor="end" >4</text>
<text x="652.9" y="650.7" font-size="28" text-anchor="end" >3</text>
<text x="652.9" y="730.7" font-size="28" text-anchor="end" >2</text>
<text x="652.9" y="811.1" font-size="28" text-anchor="end" >1</text>
<text x="652.9" y="891.5" font-size="28" text-anchor="end" >0</text>
<path d="M718.6 774V829M703.8 774H733.4M703.8 829H733.4" stroke="#000" stroke-width="1.4" fill="none"/>
<path d="M805 860.4V870M790.6 860.4H819.4M790.6 870H819.4" stroke="#000" stroke-width="1.4" fill="none"/>
<circle cx="718.6" cy="585.4" r="3.2" fill="none" stroke="#000" stroke-width="1.45"/>
<circle cx="718.6" cy="707" r="3.2" fill="none" stroke="#000" stroke-width="1.45"/>
<circle cx="718.6" cy="758.6" r="3.2" fill="none" stroke="#000" stroke-width="1.45"/>
<circle cx="718.6" cy="769.4" r="3.2" fill="none" stroke="#000" stroke-width="1.45"/>
<circle cx="712.2" cy="829.2" r="3.2" fill="none" stroke="#000" stroke-width="1.45"/>
<circle cx="725.4" cy="833" r="3.2" fill="none" stroke="#000" stroke-width="1.45"/>
<circle cx="718.6" cy="851.4" r="3.2" fill="none" stroke="#000" stroke-width="1.45"/>
<circle cx="712.2" cy="864.6" r="3.2" fill="none" stroke="#000" stroke-width="1.45"/>
<circle cx="725.4" cy="864" r="3.2" fill="none" stroke="#000" stroke-width="1.45"/>
<circle cx="712.2" cy="877.4" r="3.2" fill="none" stroke="#000" stroke-width="1.45"/>
<circle cx="725.4" cy="877.4" r="3.2" fill="none" stroke="#000" stroke-width="1.45"/>
<circle cx="805" cy="810" r="3.2" fill="none" stroke="#000" stroke-width="1.45"/>
<circle cx="805" cy="818" r="3.2" fill="none" stroke="#000" stroke-width="1.45"/>
<circle cx="805" cy="843" r="3.2" fill="none" stroke="#000" stroke-width="1.45"/>
<circle cx="791" cy="862.6" r="3.2" fill="none" stroke="#000" stroke-width="1.45"/>
<circle cx="802" cy="867.4" r="3.2" fill="none" stroke="#000" stroke-width="1.45"/>
<circle cx="785" cy="869.4" r="3.2" fill="none" stroke="#000" stroke-width="1.45"/>
<circle cx="819" cy="871" r="3.2" fill="none" stroke="#000" stroke-width="1.45"/>
<circle cx="791" cy="872.4" r="3.2" fill="none" stroke="#000" stroke-width="1.45"/>
<circle cx="808" cy="873.4" r="3.2" fill="none" stroke="#000" stroke-width="1.45"/>
<circle cx="779" cy="874.4" r="3.2" fill="none" stroke="#000" stroke-width="1.45"/>
<circle cx="830" cy="874.4" r="3.2" fill="none" stroke="#000" stroke-width="1.45"/>
<circle cx="785" cy="876.4" r="3.2" fill="none" stroke="#000" stroke-width="1.45"/>
<circle cx="796" cy="876" r="3.2" fill="none" stroke="#000" stroke-width="1.45"/>
<circle cx="802" cy="877" r="3.2" fill="none" stroke="#000" stroke-width="1.45"/>
<circle cx="813" cy="876" r="3.2" fill="none" stroke="#000" stroke-width="1.45"/>
<circle cx="824.4" cy="875.4" r="3.2" fill="none" stroke="#000" stroke-width="1.45"/>
<circle cx="808" cy="880.4" r="3.2" fill="none" stroke="#000" stroke-width="1.45"/>
<circle cx="819" cy="880.4" r="3.2" fill="none" stroke="#000" stroke-width="1.45"/>
<text transform="translate(763.5,513.6) scale(1,1.06)" font-size="28.5" text-anchor="middle">Cidea-VAT</text>
<text transform="translate(612.6,719.2) rotate(-90)" font-size="28" text-anchor="middle" textLength="249.9" lengthAdjust="spacing">Relative mRNA levels</text>
<text x="718.7" y="916.3" font-size="27.2" text-anchor="middle" >Lean</text>
<text x="804.5" y="916.3" font-size="27.2" text-anchor="middle" >Obese</text>
<text x="806" y="756" font-size="20.8" text-anchor="middle" >##</text>
</g>
<g>
<rect x="965" y="801" width="55.6" height="79.6" fill="#fff" stroke="#000" stroke-width="1.4"/>
<rect x="1051.4" y="848.6" width="55.6" height="32" fill="#1ab2b3" stroke="#000" stroke-width="1.4"/>
<path d="M936 558.5V880.6M935.1 880.6H1137.4" stroke="#000" stroke-width="1.7" fill="none"/>
<path d="M927.5 559.4H936M927.5 639.7H936M927.5 720H936M927.5 800.3H936M927.5 880.6H936M992.6 880.6V885.6M1079 880.6V885.6" stroke="#000" stroke-width="1.5" fill="none"/>
<text x="926.9" y="569.5" font-size="28" text-anchor="end" >4</text>
<text x="926.9" y="649.8" font-size="28" text-anchor="end" >3</text>
<text x="926.9" y="730.1" font-size="28" text-anchor="end" >2</text>
<text x="926.9" y="810.4" font-size="28" text-anchor="end" >1</text>
<text x="926.9" y="890.7" font-size="28" text-anchor="end" >0</text>
<path d="M992.6 776.6V824.4M978 776.6H1007.2M978 824.4H1007.2" stroke="#000" stroke-width="1.4" fill="none"/>
<path d="M1079 842.4V853.4M1064 842.4H1094M1064 853.4H1094" stroke="#000" stroke-width="1.4" fill="none"/>
<circle cx="992.6" cy="621.4" r="3.2" fill="none" stroke="#000" stroke-width="1.45"/>
<circle cx="986.4" cy="796" r="3.2" fill="none" stroke="#000" stroke-width="1.45"/>
<circle cx="999.6" cy="797" r="3.2" fill="none" stroke="#000" stroke-width="1.45"/>
<circle cx="999.6" cy="807.6" r="3.2" fill="none" stroke="#000" stroke-width="1.45"/>
<circle cx="986.4" cy="812.6" r="3.2" fill="none" stroke="#000" stroke-width="1.45"/>
<circle cx="999.6" cy="814.4" r="3.2" fill="none" stroke="#000" stroke-width="1.45"/>
<circle cx="992.6" cy="836.6" r="3.2" fill="none" stroke="#000" stroke-width="1.45"/>
<circle cx="999.6" cy="858.6" r="3.2" fill="none" stroke="#000" stroke-width="1.45"/>
<circle cx="986.4" cy="861" r="3.2" fill="none" stroke="#000" stroke-width="1.45"/>
<circle cx="1079" cy="786.4" r="3.2" fill="none" stroke="#000" stroke-width="1.45"/>
<circle cx="1079" cy="811" r="3.2" fill="none" stroke="#000" stroke-width="1.45"/>
<circle cx="1079" cy="824.6" r="3.2" fill="none" stroke="#000" stroke-width="1.45"/>
<circle cx="1053.6" cy="838.4" r="3.2" fill="none" stroke="#000" stroke-width="1.45"/>
<circle cx="1092" cy="837.4" r="3.2" fill="none" stroke="#000" stroke-width="1.45"/>
<circle cx="1066.6" cy="843.4" r="3.2" fill="none" stroke="#000" stroke-width="1.45"/>
<circle cx="1079" cy="842.4" r="3.2" fill="none" stroke="#000" stroke-width="1.45"/>
<circle cx="1104.6" cy="846.6" r="3.2" fill="none" stroke="#000" stroke-width="1.45"/>
<circle cx="1092" cy="849" r="3.2" fill="none" stroke="#000" stroke-width="1.45"/>
<circle cx="1053.6" cy="852" r="3.2" fill="none" stroke="#000" stroke-width="1.45"/>
<circle cx="1066.6" cy="852" r="3.2" fill="none" stroke="#000" stroke-width="1.45"/>
<circle cx="1079" cy="852" r="3.2" fill="none" stroke="#000" stroke-width="1.45"/>
<circle cx="1092" cy="855.4" r="3.2" fill="none" stroke="#000" stroke-width="1.45"/>
<circle cx="1066.6" cy="863.4" r="3.2" fill="none" stroke="#000" stroke-width="1.45"/>
<circle cx="1079" cy="865" r="3.2" fill="none" stroke="#000" stroke-width="1.45"/>
<circle cx="1092" cy="864" r="3.2" fill="none" stroke="#000" stroke-width="1.45"/>
<circle cx="1079" cy="875" r="3.2" fill="none" stroke="#000" stroke-width="1.45"/>
<circle cx="1066.6" cy="881" r="3.2" fill="none" stroke="#000" stroke-width="1.45"/>
<circle cx="1092" cy="880.6" r="3.2" fill="none" stroke="#000" stroke-width="1.45"/>
<text transform="translate(1036.3,513.6) scale(1,1.06)" font-size="28.5" text-anchor="middle">CD137-VAT</text>
<text transform="translate(889,718.5) rotate(-90)" font-size="28" text-anchor="middle" textLength="249.3" lengthAdjust="spacing">Relative mRNA levels</text>
<text x="992.7" y="916" font-size="27.2" text-anchor="middle" >Lean</text>
<text x="1078.7" y="916" font-size="27.2" text-anchor="middle" >Obese</text>
<text x="1077" y="747.4" font-size="20.3" text-anchor="middle" >#</text>
</g>
<g>
<rect x="1246.6" y="775.4" width="55.4" height="106" fill="#fff" stroke="#000" stroke-width="1.4"/>
<rect x="1332.4" y="836.6" width="55.6" height="44.8" fill="#1ab2b3" stroke="#000" stroke-width="1.4"/>
<path d="M1217.4 560.1V881.4M1216.6 881.4H1416" stroke="#000" stroke-width="1.7" fill="none"/>
<path d="M1209 561H1217.4M1209 667.8H1217.4M1209 774.6H1217.4M1209 881.4H1217.4M1274 881.4V886.4M1360 881.4V886.4" stroke="#000" stroke-width="1.5" fill="none"/>
<text x="1208.4" y="571.1" font-size="28" text-anchor="end" >3</text>
<text x="1208.4" y="677.9" font-size="28" text-anchor="end" >2</text>
<text x="1208.4" y="784.7" font-size="28" text-anchor="end" >1</text>
<text x="1208.4" y="891.5" font-size="28" text-anchor="end" >0</text>
<path d="M1274 748.4V801.4M1259.4 748.4H1288.6M1259.4 801.4H1288.6" stroke="#000" stroke-width="1.4" fill="none"/>
<path d="M1360 831.4V840M1345 831.4H1375M1345 840H1375" stroke="#000" stroke-width="1.4" fill="none"/>
<circle cx="1274.4" cy="600.4" r="3.2" fill="none" stroke="#000" stroke-width="1.45"/>
<circle cx="1274.4" cy="670" r="3.2" fill="none" stroke="#000" stroke-width="1.45"/>
<circle cx="1274.4" cy="746.6" r="3.2" fill="none" stroke="#000" stroke-width="1.45"/>
<circle cx="1274.4" cy="755.6" r="3.2" fill="none" stroke="#000" stroke-width="1.45"/>
<circle cx="1274.4" cy="789" r="3.2" fill="none" stroke="#000" stroke-width="1.45"/>
<circle cx="1274.4" cy="821" r="3.2" fill="none" stroke="#000" stroke-width="1.45"/>
<circle cx="1274.4" cy="834" r="3.2" fill="none" stroke="#000" stroke-width="1.45"/>
<circle cx="1274.4" cy="841" r="3.2" fill="none" stroke="#000" stroke-width="1.45"/>
<circle cx="1261" cy="847" r="3.2" fill="none" stroke="#000" stroke-width="1.45"/>
<circle cx="1287" cy="846" r="3.2" fill="none" stroke="#000" stroke-width="1.45"/>
<circle cx="1369" cy="802.6" r="3.2" fill="none" stroke="#000" stroke-width="1.45"/>
<circle cx="1351.6" cy="808" r="3.2" fill="none" stroke="#000" stroke-width="1.45"/>
<circle cx="1360" cy="806.6" r="3.2" fill="none" stroke="#000" stroke-width="1.45"/>
<circle cx="1360" cy="812.6" r="3.2" fill="none" stroke="#000" stroke-width="1.45"/>
<circle cx="1351.6" cy="826" r="3.2" fill="none" stroke="#000" stroke-width="1.45"/>
<circle cx="1360" cy="828.6" r="3.2" fill="none" stroke="#000" stroke-width="1.45"/>
<circle cx="1369" cy="828.4" r="3.2" fill="none" stroke="#000" stroke-width="1.45"/>
<circle cx="1360" cy="839" r="3.2" fill="none" stroke="#000" stroke-width="1.45"/>
<circle cx="1334.6" cy="842.4" r="3.2" fill="none" stroke="#000" stroke-width="1.45"/>
<circle cx="1385.6" cy="841.6" r="3.2" fill="none" stroke="#000" stroke-width="1.45"/>
<circle cx="1343" cy="845.6" r="3.2" fill="none" stroke="#000" stroke-width="1.45"/>
<circle cx="1351.6" cy="844" r="3.2" fill="none" stroke="#000" stroke-width="1.45"/>
<circle cx="1369" cy="844" r="3.2" fill="none" stroke="#000" stroke-width="1.45"/>
<circle cx="1377" cy="844" r="3.2" fill="none" stroke="#000" stroke-width="1.45"/>
<circle cx="1360" cy="847.4" r="3.2" fill="none" stroke="#000" stroke-width="1.45"/>
<circle cx="1360" cy="858.6" r="3.2" fill="none" stroke="#000" stroke-width="1.45"/>
<circle cx="1369" cy="863.4" r="3.2" fill="none" stroke="#000" stroke-width="1.45"/>
<circle cx="1351.6" cy="868.6" r="3.2" fill="none" stroke="#000" stroke-width="1.45"/>
<text transform="translate(1318.5,513.6) scale(1,1.06)" font-size="28.5" text-anchor="middle">TMEM26-VAT</text>
<text transform="translate(1170,718.7) rotate(-90)" font-size="28" text-anchor="middle" textLength="249.3" lengthAdjust="spacing">Relative mRNA levels</text>
<text x="1273.7" y="915.4" font-size="26.9" text-anchor="middle" >Lean</text>
<text x="1359.7" y="915.4" font-size="26.9" text-anchor="middle" >Obese</text>
<text x="1361.4" y="749" font-size="20.8" text-anchor="middle" >##</text>
</g>
<g>
<rect x="1528" y="801.6" width="55.6" height="79.8" fill="#fff" stroke="#000" stroke-width="1.4"/>
<rect x="1614.4" y="869.6" width="55.6" height="11.8" fill="#1ab2b3" stroke="#000" stroke-width="1.4"/>
<path d="M1499 559.1V881.4M1498.2 881.4H1700" stroke="#000" stroke-width="1.7" fill="none"/>
<path d="M1490.6 560H1499M1490.6 640.4H1499M1490.6 720.6H1499M1490.6 801H1499M1490.6 881.4H1499M1555.8 881.4V886.4M1642 881.4V886.4" stroke="#000" stroke-width="1.5" fill="none"/>
<text x="1490" y="570.1" font-size="28" text-anchor="end" >4</text>
<text x="1490" y="650.5" font-size="28" text-anchor="end" >3</text>
<text x="1490" y="730.7" font-size="28" text-anchor="end" >2</text>
<text x="1490" y="811.1" font-size="28" text-anchor="end" >1</text>
<text x="1490" y="891.5" font-size="28" text-anchor="end" >0</text>
<path d="M1555.8 772.4V829.4M1541.2 772.4H1570.4M1541.2 829.4H1570.4" stroke="#000" stroke-width="1.4" fill="none"/>
<path d="M1642 865.4V873.4M1627.2 865.4H1656.8M1627.2 873.4H1656.8" stroke="#000" stroke-width="1.4" fill="none"/>
<circle cx="1555.8" cy="620.4" r="3.2" fill="none" stroke="#000" stroke-width="1.45"/>
<circle cx="1555.8" cy="707" r="3.2" fill="none" stroke="#000" stroke-width="1.45"/>
<circle cx="1555.8" cy="741.2" r="3.2" fill="none" stroke="#000" stroke-width="1.45"/>
<circle cx="1555.8" cy="779" r="3.2" fill="none" stroke="#000" stroke-width="1.45"/>
<circle cx="1555.8" cy="787" r="3.2" fill="none" stroke="#000" stroke-width="1.45"/>
<circle cx="1542.8" cy="872.4" r="3.2" fill="none" stroke="#000" stroke-width="1.45"/>
<circle cx="1555.8" cy="873.6" r="3.2" fill="none" stroke="#000" stroke-width="1.45"/>
<circle cx="1569" cy="871.4" r="3.2" fill="none" stroke="#000" stroke-width="1.45"/>
<circle cx="1542.8" cy="879.4" r="3.2" fill="none" stroke="#000" stroke-width="1.45"/>
<circle cx="1569" cy="879" r="3.2" fill="none" stroke="#000" stroke-width="1.45"/>
<circle cx="1642" cy="826" r="3.2" fill="none" stroke="#000" stroke-width="1.45"/>
<circle cx="1645" cy="844" r="3.2" fill="none" stroke="#000" stroke-width="1.45"/>
<circle cx="1639.2" cy="850" r="3.2" fill="none" stroke="#000" stroke-width="1.45"/>
<circle cx="1645" cy="862.4" r="3.2" fill="none" stroke="#000" stroke-width="1.45"/>
<circle cx="1650.6" cy="863" r="3.2" fill="none" stroke="#000" stroke-width="1.45"/>
<circle cx="1639.2" cy="866" r="3.2" fill="none" stroke="#000" stroke-width="1.45"/>
<circle cx="1656.4" cy="872" r="3.2" fill="none" stroke="#000" stroke-width="1.45"/>
<circle cx="1639.2" cy="873.6" r="3.2" fill="none" stroke="#000" stroke-width="1.45"/>
<circle cx="1622" cy="876" r="3.2" fill="none" stroke="#000" stroke-width="1.45"/>
<circle cx="1633.6" cy="876" r="3.2" fill="none" stroke="#000" stroke-width="1.45"/>
<circle cx="1645" cy="876.4" r="3.2" fill="none" stroke="#000" stroke-width="1.45"/>
<circle cx="1650.6" cy="877" r="3.2" fill="none" stroke="#000" stroke-width="1.45"/>
<circle cx="1616.4" cy="879" r="3.2" fill="none" stroke="#000" stroke-width="1.45"/>
<circle cx="1628" cy="878.4" r="3.2" fill="none" stroke="#000" stroke-width="1.45"/>
<circle cx="1656.4" cy="879" r="3.2" fill="none" stroke="#000" stroke-width="1.45"/>
<circle cx="1662" cy="879.6" r="3.2" fill="none" stroke="#000" stroke-width="1.45"/>
<circle cx="1668" cy="878.4" r="3.2" fill="none" stroke="#000" stroke-width="1.45"/>
<circle cx="1639.2" cy="881" r="3.2" fill="none" stroke="#000" stroke-width="1.45"/>
<text transform="translate(1600,513.6) scale(1,1.06)" font-size="28.5" text-anchor="middle">Adiponectin-VAT</text>
<text transform="translate(1451.6,718.7) rotate(-90)" font-size="28" text-anchor="middle" textLength="249.3" lengthAdjust="spacing">Relative mRNA levels</text>
<text x="1555.8" y="914.6" font-size="26.8" text-anchor="middle" >Lean</text>
<text x="1641.3" y="914.6" font-size="26.8" text-anchor="middle" >Obese</text>
<text x="1640.2" y="749.4" font-size="20.8" text-anchor="middle" >###</text>
</g>
<g>
<rect x="1812" y="775.6" width="55.6" height="106.4" fill="#fff" stroke="#000" stroke-width="1.4"/>
<rect x="1898" y="855.6" width="55.6" height="26.4" fill="#1ab2b3" stroke="#000" stroke-width="1.4"/>
<path d="M1783 560.1V882M1782.2 882H1983.4" stroke="#000" stroke-width="1.7" fill="none"/>
<path d="M1774.6 561H1783M1774.6 668H1783M1774.6 775H1783M1774.6 882H1783M1839.6 882V887M1925.4 882V887" stroke="#000" stroke-width="1.5" fill="none"/>
<text x="1774" y="571.1" font-size="28" text-anchor="end" >3</text>
<text x="1774" y="678.1" font-size="28" text-anchor="end" >2</text>
<text x="1774" y="785.1" font-size="28" text-anchor="end" >1</text>
<text x="1774" y="892.1" font-size="28" text-anchor="end" >0</text>
<path d="M1839.6 751V800M1824.8 751H1854.4M1824.8 800H1854.4" stroke="#000" stroke-width="1.4" fill="none"/>
<path d="M1925.4 850.6V860M1910.8 850.6H1940M1910.8 860H1940" stroke="#000" stroke-width="1.4" fill="none"/>
<circle cx="1839.6" cy="594.4" r="3.2" fill="none" stroke="#000" stroke-width="1.45"/>
<circle cx="1839.6" cy="705" r="3.2" fill="none" stroke="#000" stroke-width="1.45"/>
<circle cx="1839.6" cy="741" r="3.2" fill="none" stroke="#000" stroke-width="1.45"/>
<circle cx="1839.6" cy="782.6" r="3.2" fill="none" stroke="#000" stroke-width="1.45"/>
<circle cx="1833" cy="803.6" r="3.2" fill="none" stroke="#000" stroke-width="1.45"/>
<circle cx="1846.2" cy="803.6" r="3.2" fill="none" stroke="#000" stroke-width="1.45"/>
<circle cx="1833" cy="816.6" r="3.2" fill="none" stroke="#000" stroke-width="1.45"/>
<circle cx="1846.2" cy="815.6" r="3.2" fill="none" stroke="#000" stroke-width="1.45"/>
<circle cx="1839.6" cy="836.4" r="3.2" fill="none" stroke="#000" stroke-width="1.45"/>
<circle cx="1839.6" cy="855" r="3.2" fill="none" stroke="#000" stroke-width="1.45"/>
<circle cx="1934.4" cy="814.6" r="3.2" fill="none" stroke="#000" stroke-width="1.45"/>
<circle cx="1925.6" cy="818" r="3.2" fill="none" stroke="#000" stroke-width="1.45"/>
<circle cx="1925.6" cy="832" r="3.2" fill="none" stroke="#000" stroke-width="1.45"/>
<circle cx="1917.4" cy="841.4" r="3.2" fill="none" stroke="#000" stroke-width="1.45"/>
<circle cx="1925.6" cy="847.4" r="3.2" fill="none" stroke="#000" stroke-width="1.45"/>
<circle cx="1917.4" cy="851" r="3.2" fill="none" stroke="#000" stroke-width="1.45"/>
<circle cx="1934.4" cy="856" r="3.2" fill="none" stroke="#000" stroke-width="1.45"/>
<circle cx="1951.6" cy="857.4" r="3.2" fill="none" stroke="#000" stroke-width="1.45"/>
<circle cx="1908.6" cy="859.4" r="3.2" fill="none" stroke="#000" stroke-width="1.45"/>
<circle cx="1917.4" cy="861" r="3.2" fill="none" stroke="#000" stroke-width="1.45"/>
<circle cx="1925.6" cy="862.4" r="3.2" fill="none" stroke="#000" stroke-width="1.45"/>
<circle cx="1934.4" cy="863.4" r="3.2" fill="none" stroke="#000" stroke-width="1.45"/>
<circle cx="1943" cy="864" r="3.2" fill="none" stroke="#000" stroke-width="1.45"/>
<circle cx="1951.6" cy="863.6" r="3.2" fill="none" stroke="#000" stroke-width="1.45"/>
<circle cx="1908.6" cy="866" r="3.2" fill="none" stroke="#000" stroke-width="1.45"/>
<circle cx="1925.6" cy="869.6" r="3.2" fill="none" stroke="#000" stroke-width="1.45"/>
<circle cx="1930" cy="876.4" r="3.2" fill="none" stroke="#000" stroke-width="1.45"/>
<circle cx="1921.6" cy="880" r="3.2" fill="none" stroke="#000" stroke-width="1.45"/>
<text transform="translate(1884.3,513.6) scale(1,1.06)" font-size="28.5" text-anchor="middle">PPARγ-VAT</text>
<text transform="translate(1738.4,719.2) rotate(-90)" font-size="28" text-anchor="middle" textLength="249.9" lengthAdjust="spacing">Relative mRNA levels</text>
<text x="1839.7" y="916" font-size="26.9" text-anchor="middle" >Lean</text>
<text x="1925.5" y="916" font-size="26.9" text-anchor="middle" >Obese</text>
<text x="1925.7" y="756" font-size="20.7" text-anchor="middle" >###</text>
</g>
<g>
<rect x="187" y="1260" width="44" height="93.4" fill="#04049c"/>
<rect x="296" y="1342.4" width="43.6" height="11" fill="#aaa608"/>
<rect x="256" y="1352" width="16" height="1.4" fill="#18a008"/>
<path d="M111 1030.8V1353.9" stroke="#000" stroke-width="1.7" fill="none"/>
<path d="M110.2 1353.4H361" stroke="#000" stroke-width="1.1" fill="none"/>
<path d="M110 1353.7H361" stroke="#000" stroke-width="3" stroke-dasharray="4.6 4.2" fill="none"/>
<path d="M101.8 1031.6H111M101.8 1112H111M101.8 1192.4H111M101.8 1272.8H111M101.8 1353.4H111" stroke="#000" stroke-width="1.5" fill="none"/>
<text x="101.2" y="1041.7" font-size="28" text-anchor="end" >400</text>
<text x="101.2" y="1122.1" font-size="28" text-anchor="end" >300</text>
<text x="101.2" y="1202.5" font-size="28" text-anchor="end" >200</text>
<text x="101.2" y="1282.9" font-size="28" text-anchor="end" >100</text>
<text x="101.2" y="1363.5" font-size="28" text-anchor="end" >0</text>
<path d="M208.8 1232V1262M203 1232H214.6" stroke="#04049c" stroke-width="1.4" fill="none"/>
<path d="M317.6 1338.4V1344M311.6 1338.4H323.6" stroke="#aaa608" stroke-width="1.4" fill="none"/>
<circle cx="135.6" cy="1353" r="3.2" fill="#000" stroke="#000" stroke-width="1.0"/>
<circle cx="142" cy="1351.6" r="3.2" fill="#000" stroke="#000" stroke-width="1.0"/>
<circle cx="148.4" cy="1353" r="3.2" fill="#000" stroke="#000" stroke-width="1.0"/>
<circle cx="154.6" cy="1351.8" r="3.2" fill="#000" stroke="#000" stroke-width="1.0"/>
<circle cx="160.6" cy="1353.4" r="3.2" fill="#000" stroke="#000" stroke-width="1.0"/>
<circle cx="167" cy="1352.4" r="3.2" fill="#000" stroke="#000" stroke-width="1.0"/>
<circle cx="173" cy="1353.2" r="3.2" fill="#000" stroke="#000" stroke-width="1.0"/>
<circle cx="208.8" cy="1123.6" r="3.15" fill="none" stroke="#a6a6a6" stroke-width="1.6"/>
<circle cx="208.8" cy="1216" r="3.15" fill="none" stroke="#a6a6a6" stroke-width="1.6"/>
<circle cx="208.8" cy="1247.6" r="3.15" fill="none" stroke="#a6a6a6" stroke-width="1.6"/>
<circle cx="208.8" cy="1281.6" r="3.15" fill="none" stroke="#a6a6a6" stroke-width="1.6"/>
<circle cx="208.8" cy="1295.6" r="3.15" fill="none" stroke="#a6a6a6" stroke-width="1.6"/>
<circle cx="208.8" cy="1311" r="3.15" fill="none" stroke="#a6a6a6" stroke-width="1.6"/>
<circle cx="208.8" cy="1344.6" r="3.15" fill="none" stroke="#a6a6a6" stroke-width="1.6"/>
<circle cx="244.4" cy="1353.6" r="3.15" fill="none" stroke="#000" stroke-width="1.6"/>
<circle cx="251" cy="1350" r="3.15" fill="none" stroke="#000" stroke-width="1.6"/>
<circle cx="257.4" cy="1353.6" r="3.15" fill="none" stroke="#000" stroke-width="1.6"/>
<circle cx="263.4" cy="1350.6" r="3.15" fill="none" stroke="#000" stroke-width="1.6"/>
<circle cx="269.6" cy="1353.6" r="3.15" fill="none" stroke="#000" stroke-width="1.6"/>
<circle cx="275.6" cy="1353.2" r="3.15" fill="none" stroke="#000" stroke-width="1.6"/>
<circle cx="281.6" cy="1353.4" r="3.15" fill="none" stroke="#000" stroke-width="1.6"/>
<circle cx="318" cy="1328.6" r="3.15" fill="none" stroke="#000" stroke-width="1.6"/>
<circle cx="318" cy="1343.2" r="3.15" fill="none" stroke="#000" stroke-width="1.6"/>
<circle cx="330.6" cy="1342" r="3.15" fill="none" stroke="#000" stroke-width="1.6"/>
<circle cx="330.6" cy="1348.4" r="3.15" fill="none" stroke="#000" stroke-width="1.6"/>
<circle cx="304.4" cy="1351" r="3.15" fill="none" stroke="#000" stroke-width="1.6"/>
<text transform="translate(234.5,1002.8) scale(1,1.06)" font-size="28.5" text-anchor="middle">UCP1</text>
<text transform="translate(39.4,1190.5) rotate(-90)" font-size="28" text-anchor="middle" textLength="249.3" lengthAdjust="spacing">Relative mRNA levels</text>
<path d="M159.6 1108.4H204.4M159.6 1103.7V1113.1M204.4 1103.7V1113.1" stroke="#000" stroke-width="1.4" fill="none"/>
<text x="183.4" y="1108" font-size="24" text-anchor="middle" >***</text>
<path d="M211 1108.4H255.4M211 1103.7V1113.1M255.4 1103.7V1113.1" stroke="#000" stroke-width="1.4" fill="none"/>
<text x="232" y="1107.2" font-size="24" text-anchor="middle" >***</text>
<path d="M206 1068.4H317M206 1063.7V1073.1M317 1063.7V1073.1" stroke="#000" stroke-width="1.4" fill="none"/>
<text x="265" y="1071.6" font-size="24" text-anchor="middle" >***</text>
</g>
<g>
<rect x="477" y="1251.4" width="42.4" height="105.2" fill="#000"/>
<rect x="530.4" y="1223.6" width="42.6" height="133" fill="#04049c"/>
<rect x="584" y="1312" width="42.8" height="44.6" fill="#18a008"/>
<rect x="637.6" y="1243" width="42.4" height="113.6" fill="#aaa608"/>
<path d="M455.6 1034.8V1357.1" stroke="#000" stroke-width="1.7" fill="none"/>
<path d="M454.8 1356.6H702" stroke="#000" stroke-width="1.1" fill="none"/>
<path d="M454.6 1356.9H702" stroke="#000" stroke-width="3" stroke-dasharray="4.6 4.2" fill="none"/>
<path d="M446.4 1035.6H455.6M446.4 1142.6H455.6M446.4 1249.6H455.6M446.4 1356.6H455.6M498 1356.6V1362.1M551.6 1356.6V1362.1M605.4 1356.6V1362.1M658.6 1356.6V1362.1" stroke="#000" stroke-width="1.5" fill="none"/>
<text x="445.8" y="1045.7" font-size="28" text-anchor="end" >3</text>
<text x="445.8" y="1152.7" font-size="28" text-anchor="end" >2</text>
<text x="445.8" y="1259.7" font-size="28" text-anchor="end" >1</text>
<text x="445.8" y="1366.7" font-size="28" text-anchor="end" >0</text>
<path d="M498 1238V1263.6M492 1238H504M492 1263.6H504" stroke="#a6a6a6" stroke-width="1.4" fill="none"/>
<path d="M551.6 1202.6V1225M545.8 1202.6H557.4" stroke="#04049c" stroke-width="1.4" fill="none"/>
<path d="M605.4 1306V1313M600.9 1306H609.9" stroke="#18a008" stroke-width="1.4" fill="none"/>
<path d="M658.6 1228.6V1244M652.6 1228.6H664.6" stroke="#aaa608" stroke-width="1.4" fill="none"/>
<circle cx="498" cy="1198.2" r="3.15" fill="none" stroke="#a6a6a6" stroke-width="1.6"/>
<circle cx="498" cy="1241" r="3.15" fill="none" stroke="#a6a6a6" stroke-width="1.6"/>
<circle cx="492" cy="1254.4" r="3.15" fill="none" stroke="#a6a6a6" stroke-width="1.6"/>
<circle cx="504.6" cy="1252" r="3.15" fill="none" stroke="#a6a6a6" stroke-width="1.6"/>
<circle cx="498" cy="1270" r="3.15" fill="none" stroke="#a6a6a6" stroke-width="1.6"/>
<circle cx="498" cy="1291" r="3.15" fill="none" stroke="#a6a6a6" stroke-width="1.6"/>
<circle cx="551.6" cy="1124.6" r="3.15" fill="none" stroke="#a6a6a6" stroke-width="1.6"/>
<circle cx="551.6" cy="1187.6" r="3.15" fill="none" stroke="#a6a6a6" stroke-width="1.6"/>
<circle cx="551.6" cy="1211.4" r="3.15" fill="none" stroke="#a6a6a6" stroke-width="1.6"/>
<circle cx="551.6" cy="1231.4" r="3.15" fill="none" stroke="#a6a6a6" stroke-width="1.6"/>
<circle cx="551.6" cy="1261.4" r="3.15" fill="none" stroke="#a6a6a6" stroke-width="1.6"/>
<circle cx="545.4" cy="1274" r="3.15" fill="none" stroke="#a6a6a6" stroke-width="1.6"/>
<circle cx="558" cy="1272.6" r="3.15" fill="none" stroke="#a6a6a6" stroke-width="1.6"/>
<circle cx="605.4" cy="1291" r="3.15" fill="none" stroke="#000" stroke-width="1.6"/>
<circle cx="599" cy="1303" r="3.15" fill="none" stroke="#000" stroke-width="1.6"/>
<circle cx="611.6" cy="1309" r="3.15" fill="none" stroke="#000" stroke-width="1.6"/>
<circle cx="599" cy="1313.6" r="3.15" fill="none" stroke="#000" stroke-width="1.6"/>
<circle cx="611.6" cy="1324" r="3.15" fill="none" stroke="#000" stroke-width="1.6"/>
<circle cx="599" cy="1330.4" r="3.15" fill="none" stroke="#000" stroke-width="1.6"/>
<circle cx="646" cy="1211.6" r="3.15" fill="none" stroke="#000" stroke-width="1.6"/>
<circle cx="658.6" cy="1214.6" r="3.15" fill="none" stroke="#000" stroke-width="1.6"/>
<circle cx="671.6" cy="1210" r="3.15" fill="none" stroke="#000" stroke-width="1.6"/>
<circle cx="652.4" cy="1271.4" r="3.15" fill="none" stroke="#000" stroke-width="1.6"/>
<circle cx="665.6" cy="1272" r="3.15" fill="none" stroke="#000" stroke-width="1.6"/>
<circle cx="658.6" cy="1278" r="3.15" fill="none" stroke="#000" stroke-width="1.6"/>
<text transform="translate(579,1003.2) scale(1,1.06)" font-size="28.5" text-anchor="middle">PGC1<tspan font-family="'DejaVu Serif', 'Liberation Serif', serif" font-size="26.5" dx="0.5">α</tspan></text>
<text transform="translate(412.4,1193.8) rotate(-90)" font-size="28" text-anchor="middle" textLength="249.3" lengthAdjust="spacing">Relative mRNA levels</text>
<path d="M497.6 1071H598.6M497.6 1066.3V1075.7M598.6 1066.3V1075.7" stroke="#000" stroke-width="1.4" fill="none"/>
<text x="551" y="1071.6" font-size="24" text-anchor="middle" >*</text>
<path d="M548.6 1109.2H610M548.6 1104.5V1113.9M610 1104.5V1113.9" stroke="#000" stroke-width="1.4" fill="none"/>
<text x="577.6" y="1112" font-size="24" text-anchor="middle" >*</text>
<path d="M607 1181.4H668.4M607 1176.7V1186.1M668.4 1176.7V1186.1" stroke="#000" stroke-width="1.4" fill="none"/>
<text x="638" y="1183" font-size="24" text-anchor="middle" >*</text>
</g>
<g>
<rect x="844" y="1299" width="44" height="63.4" fill="#000"/>
<rect x="899" y="1248.6" width="43" height="113.8" fill="#04049c"/>
<rect x="953" y="1335" width="43.8" height="27.4" fill="#18a008"/>
<rect x="1007.6" y="1272" width="43.4" height="90.4" fill="#aaa608"/>
<path d="M823 1044.2V1362.9" stroke="#000" stroke-width="1.7" fill="none"/>
<path d="M822.2 1362.4H1073" stroke="#000" stroke-width="1.1" fill="none"/>
<path d="M822 1362.7H1073" stroke="#000" stroke-width="3" stroke-dasharray="4.6 4.2" fill="none"/>
<path d="M813.8 1045H823M813.8 1108.5H823M813.8 1172H823M813.8 1235.4H823M813.8 1298.9H823M813.8 1362.4H823" stroke="#000" stroke-width="1.5" fill="none"/>
<text x="813.2" y="1055.1" font-size="28" text-anchor="end" >5</text>
<text x="813.2" y="1118.6" font-size="28" text-anchor="end" >4</text>
<text x="813.2" y="1182.1" font-size="28" text-anchor="end" >3</text>
<text x="813.2" y="1245.5" font-size="28" text-anchor="end" >2</text>
<text x="813.2" y="1309" font-size="28" text-anchor="end" >1</text>
<text x="813.2" y="1372.5" font-size="28" text-anchor="end" >0</text>
<path d="M866 1275.6V1300M860 1275.6H872" stroke="#a6a6a6" stroke-width="1.4" fill="none"/>
<path d="M920.6 1220.4V1249M914.6 1220.4H926.6" stroke="#8c8c8c" stroke-width="1.4" fill="none"/>
<path d="M975 1327V1336M969 1327H981" stroke="#18a008" stroke-width="1.4" fill="none"/>
<path d="M1029.4 1250.6V1273M1020.4 1250.6H1038.4" stroke="#000" stroke-width="1.4" fill="none"/>
<circle cx="866" cy="1170.8" r="3.15" fill="none" stroke="#a6a6a6" stroke-width="1.6"/>
<circle cx="866" cy="1233.2" r="3.15" fill="none" stroke="#a6a6a6" stroke-width="1.6"/>
<circle cx="866" cy="1290.4" r="3.15" fill="none" stroke="#a6a6a6" stroke-width="1.6"/>
<circle cx="866" cy="1300" r="3.15" fill="none" stroke="#a6a6a6" stroke-width="1.6"/>
<circle cx="847.6" cy="1352.4" r="3.15" fill="none" stroke="#a6a6a6" stroke-width="1.6"/>
<circle cx="860" cy="1346.4" r="3.15" fill="none" stroke="#a6a6a6" stroke-width="1.6"/>
<circle cx="872.2" cy="1352" r="3.15" fill="none" stroke="#a6a6a6" stroke-width="1.6"/>
<circle cx="884.6" cy="1348.4" r="3.15" fill="none" stroke="#a6a6a6" stroke-width="1.6"/>
<circle cx="920.6" cy="1114.8" r="3.15" fill="none" stroke="#a6a6a6" stroke-width="1.6"/>
<circle cx="920.6" cy="1175.8" r="3.15" fill="none" stroke="#a6a6a6" stroke-width="1.6"/>
<circle cx="920.6" cy="1264.8" r="3.15" fill="none" stroke="#a6a6a6" stroke-width="1.6"/>
<circle cx="927.2" cy="1280" r="3.15" fill="none" stroke="#a6a6a6" stroke-width="1.6"/>
<circle cx="914" cy="1286" r="3.15" fill="none" stroke="#a6a6a6" stroke-width="1.6"/>
<circle cx="920.6" cy="1303.4" r="3.15" fill="none" stroke="#a6a6a6" stroke-width="1.6"/>
<circle cx="920.6" cy="1317.6" r="3.15" fill="none" stroke="#a6a6a6" stroke-width="1.6"/>
<circle cx="975" cy="1293" r="3.15" fill="none" stroke="#000" stroke-width="1.6"/>
<circle cx="975" cy="1326" r="3.15" fill="none" stroke="#000" stroke-width="1.6"/>
<circle cx="975" cy="1337" r="3.15" fill="none" stroke="#000" stroke-width="1.6"/>
<circle cx="962" cy="1339.6" r="3.15" fill="none" stroke="#000" stroke-width="1.6"/>
<circle cx="988" cy="1342.4" r="3.15" fill="none" stroke="#000" stroke-width="1.6"/>
<circle cx="975" cy="1349.4" r="3.15" fill="none" stroke="#000" stroke-width="1.6"/>
<circle cx="975" cy="1357.4" r="3.15" fill="none" stroke="#000" stroke-width="1.6"/>
<circle cx="1029.4" cy="1198.4" r="3.15" fill="none" stroke="#000" stroke-width="1.6"/>
<circle cx="1022.6" cy="1251" r="3.15" fill="none" stroke="#000" stroke-width="1.6"/>
<circle cx="1036" cy="1251.6" r="3.15" fill="none" stroke="#000" stroke-width="1.6"/>
<circle cx="1029.4" cy="1265.6" r="3.15" fill="none" stroke="#000" stroke-width="1.6"/>
<circle cx="1029.4" cy="1320" r="3.15" fill="none" stroke="#000" stroke-width="1.6"/>
<circle cx="1029.4" cy="1348" r="3.15" fill="none" stroke="#000" stroke-width="1.6"/>
<text transform="translate(948,1004.4) scale(1,1.06)" font-size="28.5" text-anchor="middle">Cidea</text>
<text transform="translate(781.4,1201) rotate(-90)" font-size="28" text-anchor="middle" textLength="249.3" lengthAdjust="spacing">Relative mRNA levels</text>
<path d="M914.6 1096.4H973M914.6 1091.7V1101.1M973 1091.7V1101.1" stroke="#000" stroke-width="1.4" fill="none"/>
<text x="944.4" y="1097.6" font-size="24" text-anchor="middle" >*</text>
</g>
<g>
<rect x="1213" y="1281.6" width="44.4" height="79.8" fill="#000"/>
<rect x="1269" y="1224" width="44" height="137.4" fill="#04049c"/>
<rect x="1324.4" y="1317" width="44.2" height="44.4" fill="#18a008"/>
<rect x="1380" y="1245" width="44.6" height="116.4" fill="#aaa608"/>
<path d="M1190.6 1039.2V1361.9" stroke="#000" stroke-width="1.7" fill="none"/>
<path d="M1189.8 1361.4H1446.6" stroke="#000" stroke-width="1.1" fill="none"/>
<path d="M1189.6 1361.7H1446.6" stroke="#000" stroke-width="3" stroke-dasharray="4.6 4.2" fill="none"/>
<path d="M1181.4 1040H1190.6M1181.4 1120.3H1190.6M1181.4 1200.7H1190.6M1181.4 1281H1190.6M1181.4 1361.4H1190.6M1235.4 1361.4V1366.9M1291 1361.4V1366.9M1346.6 1361.4V1366.9M1402.4 1361.4V1366.9" stroke="#000" stroke-width="1.5" fill="none"/>
<text x="1180.8" y="1050.1" font-size="28" text-anchor="end" >4</text>
<text x="1180.8" y="1130.4" font-size="28" text-anchor="end" >3</text>
<text x="1180.8" y="1210.8" font-size="28" text-anchor="end" >2</text>
<text x="1180.8" y="1291.1" font-size="28" text-anchor="end" >1</text>
<text x="1180.8" y="1371.5" font-size="28" text-anchor="end" >0</text>
<path d="M1235.4 1273V1289M1229.4 1273H1241.4M1229.4 1289H1241.4" stroke="#a6a6a6" stroke-width="1.4" fill="none"/>
<path d="M1291 1207V1225M1285 1207H1297" stroke="#2a2ab4" stroke-width="1.4" fill="none"/>
<path d="M1346.6 1312.6V1320.4M1340.6 1312.6H1352.6M1340.6 1320.4H1352.6" stroke="#000" stroke-width="1.4" fill="none"/>
<path d="M1402.4 1224V1266.4M1396.4 1224H1408.4M1396.4 1266.4H1408.4" stroke="#000" stroke-width="1.4" fill="none"/>
<circle cx="1235.4" cy="1249.4" r="3.15" fill="none" stroke="#a6a6a6" stroke-width="1.6"/>
<circle cx="1248" cy="1283" r="3.15" fill="none" stroke="#a6a6a6" stroke-width="1.6"/>
<circle cx="1235.4" cy="1288.6" r="3.15" fill="none" stroke="#a6a6a6" stroke-width="1.6"/>
<circle cx="1248" cy="1291.4" r="3.15" fill="none" stroke="#a6a6a6" stroke-width="1.6"/>
<circle cx="1222.4" cy="1293" r="3.15" fill="none" stroke="#a6a6a6" stroke-width="1.6"/>
<circle cx="1291" cy="1154.4" r="3.15" fill="none" stroke="#a6a6a6" stroke-width="1.6"/>
<circle cx="1291" cy="1204" r="3.15" fill="none" stroke="#a6a6a6" stroke-width="1.6"/>
<circle cx="1291" cy="1216.6" r="3.15" fill="none" stroke="#a6a6a6" stroke-width="1.6"/>
<circle cx="1291" cy="1246" r="3.15" fill="none" stroke="#a6a6a6" stroke-width="1.6"/>
<circle cx="1297.6" cy="1258.4" r="3.15" fill="none" stroke="#a6a6a6" stroke-width="1.6"/>
<circle cx="1284.4" cy="1263" r="3.15" fill="none" stroke="#a6a6a6" stroke-width="1.6"/>
<circle cx="1334" cy="1306.4" r="3.15" fill="none" stroke="#000" stroke-width="1.6"/>
<circle cx="1359.6" cy="1306.4" r="3.15" fill="none" stroke="#000" stroke-width="1.6"/>
<circle cx="1346.6" cy="1312" r="3.15" fill="none" stroke="#000" stroke-width="1.6"/>
<circle cx="1346.6" cy="1321.6" r="3.15" fill="none" stroke="#000" stroke-width="1.6"/>
<circle cx="1334" cy="1327" r="3.15" fill="none" stroke="#000" stroke-width="1.6"/>
<circle cx="1359.6" cy="1327" r="3.15" fill="none" stroke="#000" stroke-width="1.6"/>
<circle cx="1402.4" cy="1165" r="3.15" fill="none" stroke="#000" stroke-width="1.6"/>
<circle cx="1402.4" cy="1246.6" r="3.15" fill="none" stroke="#000" stroke-width="1.6"/>
<circle cx="1402.4" cy="1254" r="3.15" fill="none" stroke="#000" stroke-width="1.6"/>
<circle cx="1402.4" cy="1277" r="3.15" fill="none" stroke="#000" stroke-width="1.6"/>
<circle cx="1402.4" cy="1283.4" r="3.15" fill="none" stroke="#000" stroke-width="1.6"/>
<text transform="translate(1319,1002.4) scale(1,1.06)" font-size="28.5" text-anchor="middle">CD137</text>
<text transform="translate(1145,1198.5) rotate(-90)" font-size="28" text-anchor="middle" textLength="249.3" lengthAdjust="spacing">Relative mRNA levels</text>
<path d="M1230.6 1139.6H1292.4M1230.6 1134.9V1144.3M1292.4 1134.9V1144.3" stroke="#000" stroke-width="1.4" fill="none"/>
<text x="1263" y="1139.2" font-size="24" text-anchor="middle" >*</text>
<path d="M1288.4 1102.4H1350M1288.4 1097.7V1107.1M1350 1097.7V1107.1" stroke="#000" stroke-width="1.4" fill="none"/>
<text x="1319" y="1101.6" font-size="24" text-anchor="middle" >**</text>
<path d="M1343 1140H1404.6M1343 1135.3V1144.7M1404.6 1135.3V1144.7" stroke="#000" stroke-width="1.4" fill="none"/>
<text x="1377" y="1141.6" font-size="24" text-anchor="middle" >*</text>
</g>
<g>
<rect x="1596" y="1299" width="44" height="64.4" fill="#000"/>
<rect x="1652" y="1191.6" width="44" height="171.8" fill="#04049c"/>
<rect x="1708" y="1327.6" width="44" height="35.8" fill="#18a008"/>
<rect x="1764" y="1254" width="44" height="109.4" fill="#aaa608"/>
<path d="M1573.4 1040.8V1363.9" stroke="#000" stroke-width="1.7" fill="none"/>
<path d="M1572.6 1363.4H1831.4" stroke="#000" stroke-width="1.1" fill="none"/>
<path d="M1572.4 1363.7H1831.4" stroke="#000" stroke-width="3" stroke-dasharray="4.6 4.2" fill="none"/>
<path d="M1564.2 1041.6H1573.4M1564.2 1106H1573.4M1564.2 1170.4H1573.4M1564.2 1234.8H1573.4M1564.2 1299H1573.4M1564.2 1363.4H1573.4M1617.6 1363.4V1368.9M1673.4 1363.4V1368.9M1729.4 1363.4V1368.9M1785.4 1363.4V1368.9" stroke="#000" stroke-width="1.5" fill="none"/>
<text x="1563.6" y="1051.7" font-size="28" text-anchor="end" >5</text>
<text x="1563.6" y="1116.1" font-size="28" text-anchor="end" >4</text>
<text x="1563.6" y="1180.5" font-size="28" text-anchor="end" >3</text>
<text x="1563.6" y="1244.9" font-size="28" text-anchor="end" >2</text>
<text x="1563.6" y="1309.1" font-size="28" text-anchor="end" >1</text>
<text x="1563.6" y="1373.5" font-size="28" text-anchor="end" >0</text>
<path d="M1617.6 1292V1305M1611.6 1292H1623.6M1611.6 1305H1623.6" stroke="#a6a6a6" stroke-width="1.4" fill="none"/>
<path d="M1673.4 1168.6V1193M1667.4 1168.6H1679.4" stroke="#04049c" stroke-width="1.4" fill="none"/>
<path d="M1729.4 1320.4V1334M1723.4 1320.4H1735.4M1723.4 1334H1735.4" stroke="#000" stroke-width="1.4" fill="none"/>
<path d="M1785.4 1229.6V1278M1779.4 1229.6H1791.4M1779.4 1278H1791.4" stroke="#1a1a1a" stroke-width="1.4" fill="none"/>
<circle cx="1611.2" cy="1282.4" r="3.15" fill="none" stroke="#a6a6a6" stroke-width="1.6"/>
<circle cx="1624.4" cy="1282" r="3.15" fill="none" stroke="#a6a6a6" stroke-width="1.6"/>
<circle cx="1611.2" cy="1297.4" r="3.15" fill="none" stroke="#a6a6a6" stroke-width="1.6"/>
<circle cx="1624.4" cy="1294.6" r="3.15" fill="none" stroke="#a6a6a6" stroke-width="1.6"/>
<circle cx="1624.4" cy="1316.4" r="3.15" fill="none" stroke="#a6a6a6" stroke-width="1.6"/>
<circle cx="1611.2" cy="1319.4" r="3.15" fill="none" stroke="#a6a6a6" stroke-width="1.6"/>
<circle cx="1673.8" cy="1096.6" r="3.15" fill="none" stroke="#a6a6a6" stroke-width="1.6"/>
<circle cx="1673.8" cy="1181.4" r="3.15" fill="none" stroke="#a6a6a6" stroke-width="1.6"/>
<circle cx="1673.8" cy="1189" r="3.15" fill="none" stroke="#a6a6a6" stroke-width="1.6"/>
<circle cx="1673.8" cy="1196" r="3.15" fill="none" stroke="#a6a6a6" stroke-width="1.6"/>
<circle cx="1673.8" cy="1219.6" r="3.15" fill="none" stroke="#a6a6a6" stroke-width="1.6"/>
<circle cx="1673.8" cy="1266" r="3.15" fill="none" stroke="#a6a6a6" stroke-width="1.6"/>
<circle cx="1730" cy="1310.6" r="3.15" fill="none" stroke="#000" stroke-width="1.6"/>
<circle cx="1723.4" cy="1318" r="3.15" fill="none" stroke="#000" stroke-width="1.6"/>
<circle cx="1736.6" cy="1318" r="3.15" fill="none" stroke="#000" stroke-width="1.6"/>
<circle cx="1736.6" cy="1343.6" r="3.15" fill="none" stroke="#000" stroke-width="1.6"/>
<circle cx="1723.4" cy="1346.4" r="3.15" fill="none" stroke="#000" stroke-width="1.6"/>
<circle cx="1786" cy="1156.4" r="3.15" fill="none" stroke="#000" stroke-width="1.6"/>
<circle cx="1779.4" cy="1231.6" r="3.15" fill="none" stroke="#000" stroke-width="1.6"/>
<circle cx="1792.6" cy="1233.4" r="3.15" fill="none" stroke="#000" stroke-width="1.6"/>
<circle cx="1779.4" cy="1291.4" r="3.15" fill="none" stroke="#000" stroke-width="1.6"/>
<circle cx="1792.6" cy="1295.4" r="3.15" fill="none" stroke="#000" stroke-width="1.6"/>
<circle cx="1786" cy="1316.4" r="3.15" fill="none" stroke="#000" stroke-width="1.6"/>
<text transform="translate(1702.5,1003.2) scale(1,1.06)" font-size="28.5" text-anchor="middle">Tmem26</text>
<text transform="translate(1526,1200.5) rotate(-90)" font-size="28" text-anchor="middle" textLength="249.3" lengthAdjust="spacing">Relative mRNA levels</text>
<path d="M1606 1085H1668M1606 1080.3V1089.7M1668 1080.3V1089.7" stroke="#000" stroke-width="1.4" fill="none"/>
<text x="1635" y="1087.2" font-size="24" text-anchor="middle" >**</text>
<path d="M1670.4 1085H1732.4M1670.4 1080.3V1089.7M1732.4 1080.3V1089.7" stroke="#000" stroke-width="1.4" fill="none"/>
<text x="1698" y="1087.2" font-size="24" text-anchor="middle" >**</text>
<path d="M1735.4 1130H1797M1735.4 1125.3V1134.7M1797 1125.3V1134.7" stroke="#000" stroke-width="1.4" fill="none"/>
<text x="1770.4" y="1129.2" font-size="24" text-anchor="middle" >*</text>
</g>
<g>
<rect x="129.4" y="1675.6" width="43.8" height="127.8" fill="#000"/>
<rect x="184.6" y="1621.2" width="44" height="182.2" fill="#04049c"/>
<rect x="240" y="1714.6" width="44" height="88.8" fill="#18a008"/>
<rect x="295.4" y="1667.6" width="43.6" height="135.8" fill="#aaa608"/>
<path d="M108 1480.8V1803.9" stroke="#000" stroke-width="1.7" fill="none"/>
<path d="M107.2 1803.4H357.4" stroke="#000" stroke-width="1.1" fill="none"/>
<path d="M107 1803.7H357.4" stroke="#000" stroke-width="3" stroke-dasharray="4.6 4.2" fill="none"/>
<path d="M98.8 1481.6H108M98.8 1546H108M98.8 1610.4H108M98.8 1674.8H108M98.8 1739.2H108M98.8 1803.4H108M151.4 1803.4V1808.9M206.6 1803.4V1808.9M262 1803.4V1808.9M317 1803.4V1808.9" stroke="#000" stroke-width="1.5" fill="none"/>
<text x="98.2" y="1491.7" font-size="28" text-anchor="end" >2.5</text>
<text x="98.2" y="1556.1" font-size="28" text-anchor="end" >2.0</text>
<text x="98.2" y="1620.5" font-size="28" text-anchor="end" >1.5</text>
<text x="98.2" y="1684.9" font-size="28" text-anchor="end" >1.0</text>
<text x="98.2" y="1749.3" font-size="28" text-anchor="end" >0.5</text>
<text x="98.2" y="1813.5" font-size="28" text-anchor="end" >0.0</text>
<path d="M151.4 1669.4V1680.6M145.4 1669.4H157.4M145.4 1680.6H157.4" stroke="#a6a6a6" stroke-width="1.4" fill="none"/>
<path d="M206.6 1602.4V1622M200.6 1602.4H212.6" stroke="#04049c" stroke-width="1.4" fill="none"/>
<path d="M262 1701.6V1715M256 1701.6H268" stroke="#18a008" stroke-width="1.4" fill="none"/>
<path d="M317 1655V1668M311 1655H323" stroke="#aaa608" stroke-width="1.4" fill="none"/>
<circle cx="145" cy="1659" r="3.15" fill="none" stroke="#a6a6a6" stroke-width="1.6"/>
<circle cx="158.2" cy="1658" r="3.15" fill="none" stroke="#a6a6a6" stroke-width="1.6"/>
<circle cx="151.4" cy="1666.6" r="3.15" fill="none" stroke="#a6a6a6" stroke-width="1.6"/>
<circle cx="138.6" cy="1679" r="3.15" fill="none" stroke="#a6a6a6" stroke-width="1.6"/>
<circle cx="164.6" cy="1681" r="3.15" fill="none" stroke="#a6a6a6" stroke-width="1.6"/>
<circle cx="151.4" cy="1683.4" r="3.15" fill="none" stroke="#a6a6a6" stroke-width="1.6"/>
<circle cx="151.4" cy="1701" r="3.15" fill="none" stroke="#a6a6a6" stroke-width="1.6"/>
<circle cx="206.6" cy="1551.4" r="3.15" fill="none" stroke="#a6a6a6" stroke-width="1.6"/>
<circle cx="206.6" cy="1599.6" r="3.15" fill="none" stroke="#a6a6a6" stroke-width="1.6"/>
<circle cx="206.6" cy="1606.4" r="3.15" fill="none" stroke="#a6a6a6" stroke-width="1.6"/>
<circle cx="206.6" cy="1628" r="3.15" fill="none" stroke="#a6a6a6" stroke-width="1.6"/>
<circle cx="206.6" cy="1663.4" r="3.15" fill="none" stroke="#a6a6a6" stroke-width="1.6"/>
<circle cx="206.6" cy="1677.4" r="3.15" fill="none" stroke="#a6a6a6" stroke-width="1.6"/>
<circle cx="262" cy="1661" r="3.15" fill="none" stroke="#000" stroke-width="1.6"/>
<circle cx="262" cy="1702" r="3.15" fill="none" stroke="#000" stroke-width="1.6"/>
<circle cx="262" cy="1714.4" r="3.15" fill="none" stroke="#000" stroke-width="1.6"/>
<circle cx="262" cy="1723" r="3.15" fill="none" stroke="#000" stroke-width="1.6"/>
<circle cx="262" cy="1733.6" r="3.15" fill="none" stroke="#000" stroke-width="1.6"/>
<circle cx="262" cy="1752.6" r="3.15" fill="none" stroke="#000" stroke-width="1.6"/>
<circle cx="317" cy="1619" r="3.15" fill="none" stroke="#000" stroke-width="1.6"/>
<circle cx="310.4" cy="1652.4" r="3.15" fill="none" stroke="#000" stroke-width="1.6"/>
<circle cx="323.6" cy="1651.6" r="3.15" fill="none" stroke="#000" stroke-width="1.6"/>
<circle cx="317" cy="1661" r="3.15" fill="none" stroke="#000" stroke-width="1.6"/>
<circle cx="317" cy="1671" r="3.15" fill="none" stroke="#000" stroke-width="1.6"/>
<circle cx="317" cy="1705.6" r="3.15" fill="none" stroke="#000" stroke-width="1.6"/>
<circle cx="317" cy="1714" r="3.15" fill="none" stroke="#000" stroke-width="1.6"/>
<text transform="translate(234.5,1447.8) scale(1,1.06)" font-size="28.5" text-anchor="middle">PPAR<tspan font-family="'Liberation Serif', 'DejaVu Serif', serif" font-size="27">γ</tspan></text>
<text transform="translate(46,1640.5) rotate(-90)" font-size="28" text-anchor="middle" textLength="249.3" lengthAdjust="spacing">Relative mRNA levels</text>
<path d="M142.6 1537.6H204.4M142.6 1532.9V1542.3M204.4 1532.9V1542.3" stroke="#000" stroke-width="1.4" fill="none"/>
<text x="174.4" y="1540.6" font-size="24" text-anchor="middle" >*</text>
<path d="M211.6 1538H273.6M211.6 1533.3V1542.7M273.6 1533.3V1542.7" stroke="#000" stroke-width="1.4" fill="none"/>
<text x="244" y="1539.2" font-size="24" text-anchor="middle" >*</text>
</g>
<g>
<rect x="475.4" y="1691" width="43" height="107" fill="#000"/>
<rect x="531.2" y="1608.2" width="41.2" height="189.8" fill="#04049c" stroke="#000" stroke-width="1.6"/>
<rect x="585" y="1716" width="43" height="82" fill="#18a008"/>
<rect x="640" y="1676.4" width="43" height="121.6" fill="#aaa608"/>
<path d="M453.6 1476.4V1798.5" stroke="#000" stroke-width="1.7" fill="none"/>
<path d="M452.8 1798H702" stroke="#000" stroke-width="1.1" fill="none"/>
<path d="M452.6 1798.3H702" stroke="#000" stroke-width="3" stroke-dasharray="4.6 4.2" fill="none"/>
<path d="M444.4 1477.2H453.6M444.4 1584H453.6M444.4 1691H453.6M444.4 1798H453.6M496.6 1798V1803.5M551.6 1798V1803.5M606.6 1798V1803.5M661.4 1798V1803.5" stroke="#000" stroke-width="1.5" fill="none"/>
<text x="443.8" y="1487.3" font-size="28" text-anchor="end" >3</text>
<text x="443.8" y="1594.1" font-size="28" text-anchor="end" >2</text>
<text x="443.8" y="1701.1" font-size="28" text-anchor="end" >1</text>
<text x="443.8" y="1808.1" font-size="28" text-anchor="end" >0</text>
<path d="M496.6 1679.4V1702M490.6 1679.4H502.6M490.6 1702H502.6" stroke="#a6a6a6" stroke-width="1.4" fill="none"/>
<path d="M551.6 1576V1637.6M545.6 1576H557.6M545.6 1637.6H557.6" stroke="#000" stroke-width="1.4" fill="none"/>
<path d="M606.6 1694.4V1717M601.6 1694.4H611.6" stroke="#18a008" stroke-width="1.4" fill="none"/>
<path d="M661.4 1663V1677M655.4 1663H667.4" stroke="#aaa608" stroke-width="1.4" fill="none"/>
<circle cx="497" cy="1634.4" r="3.15" fill="none" stroke="#a6a6a6" stroke-width="1.6"/>
<circle cx="497" cy="1676.4" r="3.15" fill="none" stroke="#a6a6a6" stroke-width="1.6"/>
<circle cx="490.4" cy="1691.4" r="3.15" fill="none" stroke="#a6a6a6" stroke-width="1.6"/>
<circle cx="503.6" cy="1695.4" r="3.15" fill="none" stroke="#a6a6a6" stroke-width="1.6"/>
<circle cx="490.4" cy="1701.4" r="3.15" fill="none" stroke="#a6a6a6" stroke-width="1.6"/>
<circle cx="503.6" cy="1703" r="3.15" fill="none" stroke="#a6a6a6" stroke-width="1.6"/>
<circle cx="497" cy="1735" r="3.15" fill="none" stroke="#a6a6a6" stroke-width="1.6"/>
<circle cx="551.6" cy="1521.6" r="3.15" fill="none" stroke="#a6a6a6" stroke-width="1.6"/>
<circle cx="545.4" cy="1579.4" r="3.15" fill="none" stroke="#a6a6a6" stroke-width="1.6"/>
<circle cx="558" cy="1578.6" r="3.15" fill="none" stroke="#a6a6a6" stroke-width="1.6"/>
<circle cx="551.6" cy="1666" r="3.15" fill="none" stroke="#a6a6a6" stroke-width="1.6"/>
<circle cx="551.6" cy="1688.6" r="3.15" fill="none" stroke="#a6a6a6" stroke-width="1.6"/>
<circle cx="606.6" cy="1628.4" r="3.15" fill="none" stroke="#000" stroke-width="1.6"/>
<circle cx="600" cy="1695.6" r="3.15" fill="none" stroke="#000" stroke-width="1.6"/>
<circle cx="613" cy="1698.6" r="3.15" fill="none" stroke="#000" stroke-width="1.6"/>
<circle cx="600" cy="1753" r="3.15" fill="none" stroke="#000" stroke-width="1.6"/>
<circle cx="613" cy="1753.4" r="3.15" fill="none" stroke="#000" stroke-width="1.6"/>
<circle cx="606.6" cy="1765.6" r="3.15" fill="none" stroke="#000" stroke-width="1.6"/>
<circle cx="655" cy="1628" r="3.15" fill="none" stroke="#000" stroke-width="1.6"/>
<circle cx="668" cy="1633.6" r="3.15" fill="none" stroke="#000" stroke-width="1.6"/>
<circle cx="655" cy="1673.6" r="3.15" fill="none" stroke="#000" stroke-width="1.6"/>
<circle cx="668" cy="1678.4" r="3.15" fill="none" stroke="#000" stroke-width="1.6"/>
<circle cx="655" cy="1699.4" r="3.15" fill="none" stroke="#000" stroke-width="1.6"/>
<circle cx="668" cy="1700" r="3.15" fill="none" stroke="#000" stroke-width="1.6"/>
<circle cx="661.4" cy="1719.6" r="3.15" fill="none" stroke="#000" stroke-width="1.6"/>
<text transform="translate(579.5,1437.8) scale(1,1.06)" font-size="28.5" text-anchor="middle">Adiponectin</text>
<text transform="translate(412,1636) rotate(-90)" font-size="28" text-anchor="middle" textLength="249.3" lengthAdjust="spacing">Relative mRNA levels</text>
<path d="M492.6 1505.6H553.6M492.6 1500.9V1510.3M553.6 1500.9V1510.3" stroke="#000" stroke-width="1.4" fill="none"/>
<text x="525.4" y="1510.6" font-size="24" text-anchor="middle" >*</text>
<path d="M555.6 1505.6H617.6M555.6 1500.9V1510.3M617.6 1500.9V1510.3" stroke="#000" stroke-width="1.4" fill="none"/>
<text x="586.6" y="1507.2" font-size="24" text-anchor="middle" >*</text>
</g>
<path d="M487.6 1389.8l1.3-2 1.4 2z" fill="#222"/><rect x="541.8" y="1389" width="1" height="1.2" fill="#444"/>
<text transform="translate(-2.2,38.3) scale(0.86,1)" font-family="'DejaVu Sans', 'Liberation Sans', sans-serif" font-size="54.8" font-weight="bold" stroke="none">a</text>
<text transform="translate(-2.0,522) scale(0.86,1)" font-family="'DejaVu Sans', 'Liberation Sans', sans-serif" font-size="54.8" font-weight="bold" stroke="none">b</text>
<text transform="translate(-2.2,1014.8) scale(0.86,1)" font-family="'DejaVu Sans', 'Liberation Sans', sans-serif" font-size="54.8" font-weight="bold" stroke="none">c</text>
<rect x="737.5" y="1639.3" width="41.3" height="22.2" fill="#000"/>
<rect x="737.5" y="1682.4" width="41.3" height="21.8" fill="#04049c"/>
<rect x="737.5" y="1730.2" width="41.3" height="22.2" fill="#18a008"/>
<rect x="737.5" y="1778.5" width="41.3" height="22.3" fill="#aaa608"/>
<text x="801.5" y="1661" font-size="31.4">Control</text>
<text x="801.5" y="1704" font-size="31.4">BIBO3304</text>
<text x="801.5" y="1760.2" font-size="31.4">[Leu<tspan font-size="23" dy="-13.5">31</tspan><tspan dy="13.5">,Pro</tspan><tspan font-size="23" dy="-13.5">34</tspan><tspan dy="13.5">] NPY</tspan></text>
<text x="801.5" y="1808.6" font-size="31.4">BIBO3304+[Leu<tspan font-size="23" dy="-13.5">31</tspan><tspan dy="13.5">,Pro</tspan><tspan font-size="23" dy="-13.5">34</tspan><tspan dy="13.5">] NPY</tspan></text>
</svg>
</body></html>
